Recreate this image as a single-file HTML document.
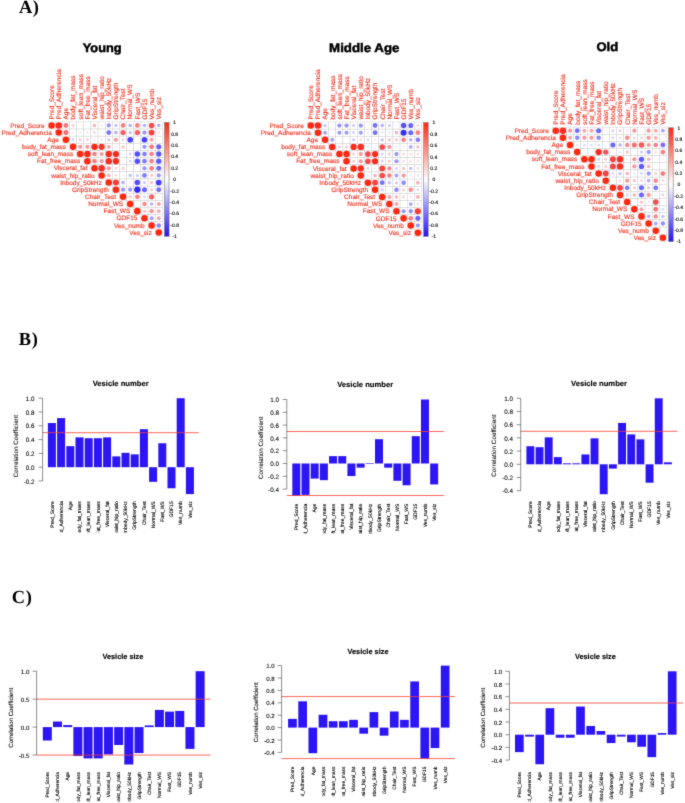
<!DOCTYPE html>
<html><head><meta charset="utf-8"><title>Figure</title>
<style>
html,body{margin:0;padding:0;background:#fff;}
body{width:685px;height:803px;overflow:hidden;position:relative;font-family:"Liberation Sans",sans-serif;}
svg{position:absolute;left:0;top:0;display:block;}
svg text{font-family:"Liberation Sans",sans-serif;text-rendering:geometricPrecision;}
.pl{font-family:"Liberation Serif",serif;font-weight:bold;font-size:18.4px;fill:#000;letter-spacing:0.7px;}
.gt{font-family:"Liberation Sans",sans-serif;font-weight:bold;font-size:12.3px;fill:#000;stroke:#000;stroke-width:0.5px;}
</style></head>
<body>
<svg width="685" height="803" viewBox="0 0 685 803">
<defs>
<linearGradient id="cbar" x1="0" y1="0" x2="0" y2="1">
<stop offset="0" stop-color="rgb(255,40,18)"/>
<stop offset="0.5" stop-color="#ffffff"/>
<stop offset="1" stop-color="rgb(36,18,250)"/>
</linearGradient>
<filter id="soft" x="0" y="0" width="685" height="803" filterUnits="userSpaceOnUse" color-interpolation-filters="sRGB">
<feConvolveMatrix order="3" kernelMatrix="1 7 1 7 49 7 1 7 1" divisor="81" edgeMode="duplicate" preserveAlpha="true"/>
</filter>
</defs>
<g filter="url(#soft)">
<rect x="0" y="0" width="685" height="803" fill="#fff"/>
<text class="pl" style="font-family:'Liberation Serif',serif" x="18.9" y="13.4">A)</text>
<text class="pl" style="font-family:'Liberation Serif',serif" x="18.8" y="344.9">B)</text>
<text class="pl" style="font-family:'Liberation Serif',serif" x="11.8" y="602.8">C)</text>
<text class="gt" x="82.8" y="51.9" textLength="38.8" lengthAdjust="spacingAndGlyphs">Young</text>
<text class="gt" x="329.1" y="51.7" textLength="70.3" lengthAdjust="spacingAndGlyphs">Middle Age</text>
<text class="gt" x="596.4" y="51.3" textLength="21.7" lengthAdjust="spacingAndGlyphs">Old</text>
<rect x="48.08" y="121.88" width="7.14" height="7.14" fill="#fff" stroke="#cdcdcd" stroke-width="0.45"/>
<rect x="55.22" y="121.88" width="7.14" height="7.14" fill="#fff" stroke="#cdcdcd" stroke-width="0.45"/>
<rect x="62.36" y="121.88" width="7.14" height="7.14" fill="#fff" stroke="#cdcdcd" stroke-width="0.45"/>
<rect x="69.5" y="121.88" width="7.14" height="7.14" fill="#fff" stroke="#cdcdcd" stroke-width="0.45"/>
<rect x="76.64" y="121.88" width="7.14" height="7.14" fill="#fff" stroke="#cdcdcd" stroke-width="0.45"/>
<rect x="83.78" y="121.88" width="7.14" height="7.14" fill="#fff" stroke="#cdcdcd" stroke-width="0.45"/>
<rect x="90.92" y="121.88" width="7.14" height="7.14" fill="#fff" stroke="#cdcdcd" stroke-width="0.45"/>
<rect x="98.06" y="121.88" width="7.14" height="7.14" fill="#fff" stroke="#cdcdcd" stroke-width="0.45"/>
<rect x="105.2" y="121.88" width="7.14" height="7.14" fill="#fff" stroke="#cdcdcd" stroke-width="0.45"/>
<rect x="112.34" y="121.88" width="7.14" height="7.14" fill="#fff" stroke="#cdcdcd" stroke-width="0.45"/>
<rect x="119.48" y="121.88" width="7.14" height="7.14" fill="#fff" stroke="#cdcdcd" stroke-width="0.45"/>
<rect x="126.62" y="121.88" width="7.14" height="7.14" fill="#fff" stroke="#cdcdcd" stroke-width="0.45"/>
<rect x="133.76" y="121.88" width="7.14" height="7.14" fill="#fff" stroke="#cdcdcd" stroke-width="0.45"/>
<rect x="140.9" y="121.88" width="7.14" height="7.14" fill="#fff" stroke="#cdcdcd" stroke-width="0.45"/>
<rect x="148.04" y="121.88" width="7.14" height="7.14" fill="#fff" stroke="#cdcdcd" stroke-width="0.45"/>
<rect x="155.18" y="121.88" width="7.14" height="7.14" fill="#fff" stroke="#cdcdcd" stroke-width="0.45"/>
<rect x="55.22" y="129.02" width="7.14" height="7.14" fill="#fff" stroke="#cdcdcd" stroke-width="0.45"/>
<rect x="62.36" y="129.02" width="7.14" height="7.14" fill="#fff" stroke="#cdcdcd" stroke-width="0.45"/>
<rect x="69.5" y="129.02" width="7.14" height="7.14" fill="#fff" stroke="#cdcdcd" stroke-width="0.45"/>
<rect x="76.64" y="129.02" width="7.14" height="7.14" fill="#fff" stroke="#cdcdcd" stroke-width="0.45"/>
<rect x="83.78" y="129.02" width="7.14" height="7.14" fill="#fff" stroke="#cdcdcd" stroke-width="0.45"/>
<rect x="90.92" y="129.02" width="7.14" height="7.14" fill="#fff" stroke="#cdcdcd" stroke-width="0.45"/>
<rect x="98.06" y="129.02" width="7.14" height="7.14" fill="#fff" stroke="#cdcdcd" stroke-width="0.45"/>
<rect x="105.2" y="129.02" width="7.14" height="7.14" fill="#fff" stroke="#cdcdcd" stroke-width="0.45"/>
<rect x="112.34" y="129.02" width="7.14" height="7.14" fill="#fff" stroke="#cdcdcd" stroke-width="0.45"/>
<rect x="119.48" y="129.02" width="7.14" height="7.14" fill="#fff" stroke="#cdcdcd" stroke-width="0.45"/>
<rect x="126.62" y="129.02" width="7.14" height="7.14" fill="#fff" stroke="#cdcdcd" stroke-width="0.45"/>
<rect x="133.76" y="129.02" width="7.14" height="7.14" fill="#fff" stroke="#cdcdcd" stroke-width="0.45"/>
<rect x="140.9" y="129.02" width="7.14" height="7.14" fill="#fff" stroke="#cdcdcd" stroke-width="0.45"/>
<rect x="148.04" y="129.02" width="7.14" height="7.14" fill="#fff" stroke="#cdcdcd" stroke-width="0.45"/>
<rect x="155.18" y="129.02" width="7.14" height="7.14" fill="#fff" stroke="#cdcdcd" stroke-width="0.45"/>
<rect x="62.36" y="136.16" width="7.14" height="7.14" fill="#fff" stroke="#cdcdcd" stroke-width="0.45"/>
<rect x="69.5" y="136.16" width="7.14" height="7.14" fill="#fff" stroke="#cdcdcd" stroke-width="0.45"/>
<rect x="76.64" y="136.16" width="7.14" height="7.14" fill="#fff" stroke="#cdcdcd" stroke-width="0.45"/>
<rect x="83.78" y="136.16" width="7.14" height="7.14" fill="#fff" stroke="#cdcdcd" stroke-width="0.45"/>
<rect x="90.92" y="136.16" width="7.14" height="7.14" fill="#fff" stroke="#cdcdcd" stroke-width="0.45"/>
<rect x="98.06" y="136.16" width="7.14" height="7.14" fill="#fff" stroke="#cdcdcd" stroke-width="0.45"/>
<rect x="105.2" y="136.16" width="7.14" height="7.14" fill="#fff" stroke="#cdcdcd" stroke-width="0.45"/>
<rect x="112.34" y="136.16" width="7.14" height="7.14" fill="#fff" stroke="#cdcdcd" stroke-width="0.45"/>
<rect x="119.48" y="136.16" width="7.14" height="7.14" fill="#fff" stroke="#cdcdcd" stroke-width="0.45"/>
<rect x="126.62" y="136.16" width="7.14" height="7.14" fill="#fff" stroke="#cdcdcd" stroke-width="0.45"/>
<rect x="133.76" y="136.16" width="7.14" height="7.14" fill="#fff" stroke="#cdcdcd" stroke-width="0.45"/>
<rect x="140.9" y="136.16" width="7.14" height="7.14" fill="#fff" stroke="#cdcdcd" stroke-width="0.45"/>
<rect x="148.04" y="136.16" width="7.14" height="7.14" fill="#fff" stroke="#cdcdcd" stroke-width="0.45"/>
<rect x="155.18" y="136.16" width="7.14" height="7.14" fill="#fff" stroke="#cdcdcd" stroke-width="0.45"/>
<rect x="69.5" y="143.3" width="7.14" height="7.14" fill="#fff" stroke="#cdcdcd" stroke-width="0.45"/>
<rect x="76.64" y="143.3" width="7.14" height="7.14" fill="#fff" stroke="#cdcdcd" stroke-width="0.45"/>
<rect x="83.78" y="143.3" width="7.14" height="7.14" fill="#fff" stroke="#cdcdcd" stroke-width="0.45"/>
<rect x="90.92" y="143.3" width="7.14" height="7.14" fill="#fff" stroke="#cdcdcd" stroke-width="0.45"/>
<rect x="98.06" y="143.3" width="7.14" height="7.14" fill="#fff" stroke="#cdcdcd" stroke-width="0.45"/>
<rect x="105.2" y="143.3" width="7.14" height="7.14" fill="#fff" stroke="#cdcdcd" stroke-width="0.45"/>
<rect x="112.34" y="143.3" width="7.14" height="7.14" fill="#fff" stroke="#cdcdcd" stroke-width="0.45"/>
<rect x="119.48" y="143.3" width="7.14" height="7.14" fill="#fff" stroke="#cdcdcd" stroke-width="0.45"/>
<rect x="126.62" y="143.3" width="7.14" height="7.14" fill="#fff" stroke="#cdcdcd" stroke-width="0.45"/>
<rect x="133.76" y="143.3" width="7.14" height="7.14" fill="#fff" stroke="#cdcdcd" stroke-width="0.45"/>
<rect x="140.9" y="143.3" width="7.14" height="7.14" fill="#fff" stroke="#cdcdcd" stroke-width="0.45"/>
<rect x="148.04" y="143.3" width="7.14" height="7.14" fill="#fff" stroke="#cdcdcd" stroke-width="0.45"/>
<rect x="155.18" y="143.3" width="7.14" height="7.14" fill="#fff" stroke="#cdcdcd" stroke-width="0.45"/>
<rect x="76.64" y="150.44" width="7.14" height="7.14" fill="#fff" stroke="#cdcdcd" stroke-width="0.45"/>
<rect x="83.78" y="150.44" width="7.14" height="7.14" fill="#fff" stroke="#cdcdcd" stroke-width="0.45"/>
<rect x="90.92" y="150.44" width="7.14" height="7.14" fill="#fff" stroke="#cdcdcd" stroke-width="0.45"/>
<rect x="98.06" y="150.44" width="7.14" height="7.14" fill="#fff" stroke="#cdcdcd" stroke-width="0.45"/>
<rect x="105.2" y="150.44" width="7.14" height="7.14" fill="#fff" stroke="#cdcdcd" stroke-width="0.45"/>
<rect x="112.34" y="150.44" width="7.14" height="7.14" fill="#fff" stroke="#cdcdcd" stroke-width="0.45"/>
<rect x="119.48" y="150.44" width="7.14" height="7.14" fill="#fff" stroke="#cdcdcd" stroke-width="0.45"/>
<rect x="126.62" y="150.44" width="7.14" height="7.14" fill="#fff" stroke="#cdcdcd" stroke-width="0.45"/>
<rect x="133.76" y="150.44" width="7.14" height="7.14" fill="#fff" stroke="#cdcdcd" stroke-width="0.45"/>
<rect x="140.9" y="150.44" width="7.14" height="7.14" fill="#fff" stroke="#cdcdcd" stroke-width="0.45"/>
<rect x="148.04" y="150.44" width="7.14" height="7.14" fill="#fff" stroke="#cdcdcd" stroke-width="0.45"/>
<rect x="155.18" y="150.44" width="7.14" height="7.14" fill="#fff" stroke="#cdcdcd" stroke-width="0.45"/>
<rect x="83.78" y="157.58" width="7.14" height="7.14" fill="#fff" stroke="#cdcdcd" stroke-width="0.45"/>
<rect x="90.92" y="157.58" width="7.14" height="7.14" fill="#fff" stroke="#cdcdcd" stroke-width="0.45"/>
<rect x="98.06" y="157.58" width="7.14" height="7.14" fill="#fff" stroke="#cdcdcd" stroke-width="0.45"/>
<rect x="105.2" y="157.58" width="7.14" height="7.14" fill="#fff" stroke="#cdcdcd" stroke-width="0.45"/>
<rect x="112.34" y="157.58" width="7.14" height="7.14" fill="#fff" stroke="#cdcdcd" stroke-width="0.45"/>
<rect x="119.48" y="157.58" width="7.14" height="7.14" fill="#fff" stroke="#cdcdcd" stroke-width="0.45"/>
<rect x="126.62" y="157.58" width="7.14" height="7.14" fill="#fff" stroke="#cdcdcd" stroke-width="0.45"/>
<rect x="133.76" y="157.58" width="7.14" height="7.14" fill="#fff" stroke="#cdcdcd" stroke-width="0.45"/>
<rect x="140.9" y="157.58" width="7.14" height="7.14" fill="#fff" stroke="#cdcdcd" stroke-width="0.45"/>
<rect x="148.04" y="157.58" width="7.14" height="7.14" fill="#fff" stroke="#cdcdcd" stroke-width="0.45"/>
<rect x="155.18" y="157.58" width="7.14" height="7.14" fill="#fff" stroke="#cdcdcd" stroke-width="0.45"/>
<rect x="90.92" y="164.72" width="7.14" height="7.14" fill="#fff" stroke="#cdcdcd" stroke-width="0.45"/>
<rect x="98.06" y="164.72" width="7.14" height="7.14" fill="#fff" stroke="#cdcdcd" stroke-width="0.45"/>
<rect x="105.2" y="164.72" width="7.14" height="7.14" fill="#fff" stroke="#cdcdcd" stroke-width="0.45"/>
<rect x="112.34" y="164.72" width="7.14" height="7.14" fill="#fff" stroke="#cdcdcd" stroke-width="0.45"/>
<rect x="119.48" y="164.72" width="7.14" height="7.14" fill="#fff" stroke="#cdcdcd" stroke-width="0.45"/>
<rect x="126.62" y="164.72" width="7.14" height="7.14" fill="#fff" stroke="#cdcdcd" stroke-width="0.45"/>
<rect x="133.76" y="164.72" width="7.14" height="7.14" fill="#fff" stroke="#cdcdcd" stroke-width="0.45"/>
<rect x="140.9" y="164.72" width="7.14" height="7.14" fill="#fff" stroke="#cdcdcd" stroke-width="0.45"/>
<rect x="148.04" y="164.72" width="7.14" height="7.14" fill="#fff" stroke="#cdcdcd" stroke-width="0.45"/>
<rect x="155.18" y="164.72" width="7.14" height="7.14" fill="#fff" stroke="#cdcdcd" stroke-width="0.45"/>
<rect x="98.06" y="171.86" width="7.14" height="7.14" fill="#fff" stroke="#cdcdcd" stroke-width="0.45"/>
<rect x="105.2" y="171.86" width="7.14" height="7.14" fill="#fff" stroke="#cdcdcd" stroke-width="0.45"/>
<rect x="112.34" y="171.86" width="7.14" height="7.14" fill="#fff" stroke="#cdcdcd" stroke-width="0.45"/>
<rect x="119.48" y="171.86" width="7.14" height="7.14" fill="#fff" stroke="#cdcdcd" stroke-width="0.45"/>
<rect x="126.62" y="171.86" width="7.14" height="7.14" fill="#fff" stroke="#cdcdcd" stroke-width="0.45"/>
<rect x="133.76" y="171.86" width="7.14" height="7.14" fill="#fff" stroke="#cdcdcd" stroke-width="0.45"/>
<rect x="140.9" y="171.86" width="7.14" height="7.14" fill="#fff" stroke="#cdcdcd" stroke-width="0.45"/>
<rect x="148.04" y="171.86" width="7.14" height="7.14" fill="#fff" stroke="#cdcdcd" stroke-width="0.45"/>
<rect x="155.18" y="171.86" width="7.14" height="7.14" fill="#fff" stroke="#cdcdcd" stroke-width="0.45"/>
<rect x="105.2" y="179" width="7.14" height="7.14" fill="#fff" stroke="#cdcdcd" stroke-width="0.45"/>
<rect x="112.34" y="179" width="7.14" height="7.14" fill="#fff" stroke="#cdcdcd" stroke-width="0.45"/>
<rect x="119.48" y="179" width="7.14" height="7.14" fill="#fff" stroke="#cdcdcd" stroke-width="0.45"/>
<rect x="126.62" y="179" width="7.14" height="7.14" fill="#fff" stroke="#cdcdcd" stroke-width="0.45"/>
<rect x="133.76" y="179" width="7.14" height="7.14" fill="#fff" stroke="#cdcdcd" stroke-width="0.45"/>
<rect x="140.9" y="179" width="7.14" height="7.14" fill="#fff" stroke="#cdcdcd" stroke-width="0.45"/>
<rect x="148.04" y="179" width="7.14" height="7.14" fill="#fff" stroke="#cdcdcd" stroke-width="0.45"/>
<rect x="155.18" y="179" width="7.14" height="7.14" fill="#fff" stroke="#cdcdcd" stroke-width="0.45"/>
<rect x="112.34" y="186.14" width="7.14" height="7.14" fill="#fff" stroke="#cdcdcd" stroke-width="0.45"/>
<rect x="119.48" y="186.14" width="7.14" height="7.14" fill="#fff" stroke="#cdcdcd" stroke-width="0.45"/>
<rect x="126.62" y="186.14" width="7.14" height="7.14" fill="#fff" stroke="#cdcdcd" stroke-width="0.45"/>
<rect x="133.76" y="186.14" width="7.14" height="7.14" fill="#fff" stroke="#cdcdcd" stroke-width="0.45"/>
<rect x="140.9" y="186.14" width="7.14" height="7.14" fill="#fff" stroke="#cdcdcd" stroke-width="0.45"/>
<rect x="148.04" y="186.14" width="7.14" height="7.14" fill="#fff" stroke="#cdcdcd" stroke-width="0.45"/>
<rect x="155.18" y="186.14" width="7.14" height="7.14" fill="#fff" stroke="#cdcdcd" stroke-width="0.45"/>
<rect x="119.48" y="193.28" width="7.14" height="7.14" fill="#fff" stroke="#cdcdcd" stroke-width="0.45"/>
<rect x="126.62" y="193.28" width="7.14" height="7.14" fill="#fff" stroke="#cdcdcd" stroke-width="0.45"/>
<rect x="133.76" y="193.28" width="7.14" height="7.14" fill="#fff" stroke="#cdcdcd" stroke-width="0.45"/>
<rect x="140.9" y="193.28" width="7.14" height="7.14" fill="#fff" stroke="#cdcdcd" stroke-width="0.45"/>
<rect x="148.04" y="193.28" width="7.14" height="7.14" fill="#fff" stroke="#cdcdcd" stroke-width="0.45"/>
<rect x="155.18" y="193.28" width="7.14" height="7.14" fill="#fff" stroke="#cdcdcd" stroke-width="0.45"/>
<rect x="126.62" y="200.42" width="7.14" height="7.14" fill="#fff" stroke="#cdcdcd" stroke-width="0.45"/>
<rect x="133.76" y="200.42" width="7.14" height="7.14" fill="#fff" stroke="#cdcdcd" stroke-width="0.45"/>
<rect x="140.9" y="200.42" width="7.14" height="7.14" fill="#fff" stroke="#cdcdcd" stroke-width="0.45"/>
<rect x="148.04" y="200.42" width="7.14" height="7.14" fill="#fff" stroke="#cdcdcd" stroke-width="0.45"/>
<rect x="155.18" y="200.42" width="7.14" height="7.14" fill="#fff" stroke="#cdcdcd" stroke-width="0.45"/>
<rect x="133.76" y="207.56" width="7.14" height="7.14" fill="#fff" stroke="#cdcdcd" stroke-width="0.45"/>
<rect x="140.9" y="207.56" width="7.14" height="7.14" fill="#fff" stroke="#cdcdcd" stroke-width="0.45"/>
<rect x="148.04" y="207.56" width="7.14" height="7.14" fill="#fff" stroke="#cdcdcd" stroke-width="0.45"/>
<rect x="155.18" y="207.56" width="7.14" height="7.14" fill="#fff" stroke="#cdcdcd" stroke-width="0.45"/>
<rect x="140.9" y="214.7" width="7.14" height="7.14" fill="#fff" stroke="#cdcdcd" stroke-width="0.45"/>
<rect x="148.04" y="214.7" width="7.14" height="7.14" fill="#fff" stroke="#cdcdcd" stroke-width="0.45"/>
<rect x="155.18" y="214.7" width="7.14" height="7.14" fill="#fff" stroke="#cdcdcd" stroke-width="0.45"/>
<rect x="148.04" y="221.84" width="7.14" height="7.14" fill="#fff" stroke="#cdcdcd" stroke-width="0.45"/>
<rect x="155.18" y="221.84" width="7.14" height="7.14" fill="#fff" stroke="#cdcdcd" stroke-width="0.45"/>
<rect x="155.18" y="228.98" width="7.14" height="7.14" fill="#fff" stroke="#cdcdcd" stroke-width="0.45"/>
<circle cx="51.65" cy="125.45" r="3.26" fill="#ff2812"/>
<circle cx="58.79" cy="125.45" r="3.26" fill="#fb2b20"/>
<circle cx="65.93" cy="125.45" r="2.43" fill="#f5767c"/>
<circle cx="73.07" cy="125.45" r="1.44" fill="#fbd2d5"/>
<circle cx="80.21" cy="125.45" r="0.88" fill="#fef2f3"/>
<circle cx="87.35" cy="125.45" r="0.88" fill="#fef2f3"/>
<circle cx="94.49" cy="125.45" r="1.82" fill="#f8b3b8"/>
<circle cx="101.63" cy="125.45" r="1.15" fill="#fde5e7"/>
<circle cx="108.77" cy="125.45" r="2.1" fill="#9894fd"/>
<circle cx="115.91" cy="125.45" r="1.65" fill="#c2c0fe"/>
<circle cx="123.05" cy="125.45" r="2.33" fill="#f58186"/>
<circle cx="130.19" cy="125.45" r="1.82" fill="#b3b0fe"/>
<circle cx="137.33" cy="125.45" r="2.33" fill="#f58186"/>
<circle cx="144.47" cy="125.45" r="1.82" fill="#b3b0fe"/>
<circle cx="151.61" cy="125.45" r="2.8" fill="#f65052"/>
<circle cx="158.75" cy="125.45" r="1.82" fill="#b3b0fe"/>
<circle cx="58.79" cy="132.59" r="3.26" fill="#ff2812"/>
<circle cx="65.93" cy="132.59" r="2.52" fill="#f56d71"/>
<circle cx="73.07" cy="132.59" r="1.15" fill="#fde5e7"/>
<circle cx="80.21" cy="132.59" r="1.15" fill="#e5e4ff"/>
<circle cx="87.35" cy="132.59" r="1.15" fill="#e5e4ff"/>
<circle cx="94.49" cy="132.59" r="1.44" fill="#fbd2d5"/>
<circle cx="108.77" cy="132.59" r="2.43" fill="#7671fd"/>
<circle cx="115.91" cy="132.59" r="1.82" fill="#b3b0fe"/>
<circle cx="123.05" cy="132.59" r="2.63" fill="#f56165"/>
<circle cx="130.19" cy="132.59" r="1.65" fill="#c2c0fe"/>
<circle cx="137.33" cy="132.59" r="2.63" fill="#f56165"/>
<circle cx="144.47" cy="132.59" r="2.1" fill="#9894fd"/>
<circle cx="151.61" cy="132.59" r="2.96" fill="#f74140"/>
<circle cx="158.75" cy="132.59" r="1.27" fill="#fcdee1"/>
<circle cx="65.93" cy="139.73" r="3.26" fill="#ff2812"/>
<circle cx="73.07" cy="139.73" r="1.44" fill="#d2d1fe"/>
<circle cx="80.21" cy="139.73" r="1.53" fill="#facccf"/>
<circle cx="87.35" cy="139.73" r="1.44" fill="#fbd2d5"/>
<circle cx="94.49" cy="139.73" r="1.15" fill="#fde5e7"/>
<circle cx="101.63" cy="139.73" r="1.15" fill="#fde5e7"/>
<circle cx="108.77" cy="139.73" r="1.53" fill="#cccafe"/>
<circle cx="115.91" cy="139.73" r="2.1" fill="#f6989e"/>
<circle cx="123.05" cy="139.73" r="1.44" fill="#fbd2d5"/>
<circle cx="130.19" cy="139.73" r="2.84" fill="#4b43fc"/>
<circle cx="144.47" cy="139.73" r="2.84" fill="#4b43fc"/>
<circle cx="151.61" cy="139.73" r="2.01" fill="#f7a1a7"/>
<circle cx="158.75" cy="139.73" r="0.81" fill="#fef5f6"/>
<circle cx="73.07" cy="146.87" r="3.26" fill="#ff2812"/>
<circle cx="80.21" cy="146.87" r="2.1" fill="#f6989e"/>
<circle cx="87.35" cy="146.87" r="2.1" fill="#f6989e"/>
<circle cx="94.49" cy="146.87" r="3.18" fill="#fd2716"/>
<circle cx="101.63" cy="146.87" r="3.12" fill="#f9342e"/>
<circle cx="108.77" cy="146.87" r="1.97" fill="#f7a5aa"/>
<circle cx="115.91" cy="146.87" r="1.15" fill="#fde5e7"/>
<circle cx="123.05" cy="146.87" r="1.65" fill="#f9c2c6"/>
<circle cx="130.19" cy="146.87" r="0.88" fill="#fef2f3"/>
<circle cx="144.47" cy="146.87" r="2.1" fill="#9894fd"/>
<circle cx="151.61" cy="146.87" r="2.41" fill="#f5797e"/>
<circle cx="158.75" cy="146.87" r="2.57" fill="#6761fc"/>
<circle cx="80.21" cy="154.01" r="3.26" fill="#ff2812"/>
<circle cx="87.35" cy="154.01" r="3.26" fill="#ff2812"/>
<circle cx="94.49" cy="154.01" r="2.33" fill="#f58186"/>
<circle cx="101.63" cy="154.01" r="2.1" fill="#f6989e"/>
<circle cx="108.77" cy="154.01" r="3.21" fill="#fa2e25"/>
<circle cx="115.91" cy="154.01" r="3.1" fill="#fc2a1d"/>
<circle cx="130.19" cy="154.01" r="1.44" fill="#d2d1fe"/>
<circle cx="137.33" cy="154.01" r="2.74" fill="#554efc"/>
<circle cx="144.47" cy="154.01" r="2.33" fill="#817cfd"/>
<circle cx="151.61" cy="154.01" r="2.33" fill="#f58186"/>
<circle cx="158.75" cy="154.01" r="2.65" fill="#5e57fc"/>
<circle cx="87.35" cy="161.15" r="3.26" fill="#ff2812"/>
<circle cx="94.49" cy="161.15" r="2.33" fill="#f58186"/>
<circle cx="101.63" cy="161.15" r="2.1" fill="#f6989e"/>
<circle cx="108.77" cy="161.15" r="3.21" fill="#fa2e25"/>
<circle cx="115.91" cy="161.15" r="3.1" fill="#fc2a1d"/>
<circle cx="130.19" cy="161.15" r="1.44" fill="#d2d1fe"/>
<circle cx="137.33" cy="161.15" r="2.74" fill="#554efc"/>
<circle cx="144.47" cy="161.15" r="2.33" fill="#817cfd"/>
<circle cx="151.61" cy="161.15" r="2.33" fill="#f58186"/>
<circle cx="158.75" cy="161.15" r="2.65" fill="#5e57fc"/>
<circle cx="94.49" cy="168.29" r="3.26" fill="#ff2812"/>
<circle cx="101.63" cy="168.29" r="3.21" fill="#fa2e25"/>
<circle cx="108.77" cy="168.29" r="2.1" fill="#f6989e"/>
<circle cx="115.91" cy="168.29" r="1.44" fill="#fbd2d5"/>
<circle cx="123.05" cy="168.29" r="1.53" fill="#facccf"/>
<circle cx="144.47" cy="168.29" r="2.1" fill="#9894fd"/>
<circle cx="151.61" cy="168.29" r="2.38" fill="#f57b81"/>
<circle cx="158.75" cy="168.29" r="2.5" fill="#6e69fd"/>
<circle cx="101.63" cy="175.43" r="3.26" fill="#ff2812"/>
<circle cx="108.77" cy="175.43" r="1.82" fill="#f8b3b8"/>
<circle cx="115.91" cy="175.43" r="1.34" fill="#fbd9dc"/>
<circle cx="123.05" cy="175.43" r="0.88" fill="#fef2f3"/>
<circle cx="130.19" cy="175.43" r="1.65" fill="#c2c0fe"/>
<circle cx="137.33" cy="175.43" r="1.53" fill="#cccafe"/>
<circle cx="144.47" cy="175.43" r="2.33" fill="#817cfd"/>
<circle cx="151.61" cy="175.43" r="1.57" fill="#fac8cc"/>
<circle cx="158.75" cy="175.43" r="2.07" fill="#9c98fd"/>
<circle cx="108.77" cy="182.57" r="3.26" fill="#ff2812"/>
<circle cx="115.91" cy="182.57" r="3.03" fill="#f83b38"/>
<circle cx="123.05" cy="182.57" r="1.82" fill="#b3b0fe"/>
<circle cx="130.19" cy="182.57" r="1.15" fill="#fde5e7"/>
<circle cx="137.33" cy="182.57" r="2.74" fill="#554efc"/>
<circle cx="144.47" cy="182.57" r="1.53" fill="#cccafe"/>
<circle cx="151.61" cy="182.57" r="1.69" fill="#f9bfc3"/>
<circle cx="158.75" cy="182.57" r="2.88" fill="#473ffc"/>
<circle cx="115.91" cy="189.71" r="3.26" fill="#ff2812"/>
<circle cx="123.05" cy="189.71" r="2.1" fill="#9894fd"/>
<circle cx="130.19" cy="189.71" r="2.1" fill="#9894fd"/>
<circle cx="137.33" cy="189.71" r="3.12" fill="#3226fb"/>
<circle cx="144.47" cy="189.71" r="2.52" fill="#6c66fc"/>
<circle cx="151.61" cy="189.71" r="1.57" fill="#fac8cc"/>
<circle cx="158.75" cy="189.71" r="2.43" fill="#7671fd"/>
<circle cx="123.05" cy="196.85" r="3.26" fill="#ff2812"/>
<circle cx="130.19" cy="196.85" r="1.65" fill="#f9c2c6"/>
<circle cx="137.33" cy="196.85" r="2.33" fill="#f58186"/>
<circle cx="144.47" cy="196.85" r="1.44" fill="#d2d1fe"/>
<circle cx="151.61" cy="196.85" r="2.63" fill="#f56165"/>
<circle cx="158.75" cy="196.85" r="0.7" fill="#fef8f9"/>
<circle cx="130.19" cy="203.99" r="3.26" fill="#ff2812"/>
<circle cx="144.47" cy="203.99" r="2.22" fill="#f68c92"/>
<circle cx="151.61" cy="203.99" r="1.79" fill="#b6b3fe"/>
<circle cx="158.75" cy="203.99" r="2.01" fill="#f7a1a7"/>
<circle cx="137.33" cy="211.13" r="3.26" fill="#ff2812"/>
<circle cx="144.47" cy="211.13" r="1.65" fill="#f9c2c6"/>
<circle cx="151.61" cy="211.13" r="2.15" fill="#f69399"/>
<circle cx="158.75" cy="211.13" r="1.92" fill="#f7aaaf"/>
<circle cx="144.47" cy="218.27" r="3.26" fill="#ff2812"/>
<circle cx="151.61" cy="218.27" r="2.01" fill="#a19efe"/>
<circle cx="158.75" cy="218.27" r="1.98" fill="#f7a4aa"/>
<circle cx="151.61" cy="225.41" r="3.26" fill="#ff2812"/>
<circle cx="158.75" cy="225.41" r="2.26" fill="#8884fd"/>
<circle cx="158.75" cy="232.55" r="3.26" fill="#ff2812"/>
<g font-size="6.5" fill="#f23322" stroke="#f23322" stroke-width="0.14">
<text x="44.65" y="127.65" text-anchor="end">Pred_Score</text>
<text transform="translate(53.95,119.48) rotate(-90)">Pred_Score</text>
<text x="51.79" y="134.79" text-anchor="end">Pred_Adherencia</text>
<text transform="translate(61.09,119.48) rotate(-90)">Pred_Adherencia</text>
<text x="58.93" y="141.93" text-anchor="end">Age</text>
<text transform="translate(68.23,119.48) rotate(-90)">Age</text>
<text x="66.07" y="149.07" text-anchor="end">body_fat_mass</text>
<text transform="translate(75.37,119.48) rotate(-90)">body_fat_mass</text>
<text x="73.21" y="156.21" text-anchor="end">soft_lean_mass</text>
<text transform="translate(82.51,119.48) rotate(-90)">soft_lean_mass</text>
<text x="80.35" y="163.35" text-anchor="end">Fat_free_mass</text>
<text transform="translate(89.65,119.48) rotate(-90)">Fat_free_mass</text>
<text x="87.49" y="170.49" text-anchor="end">Visceral_fat</text>
<text transform="translate(96.79,119.48) rotate(-90)">Visceral_fat</text>
<text x="94.63" y="177.63" text-anchor="end">waist_hip_ratio</text>
<text transform="translate(103.93,119.48) rotate(-90)">waist_hip_ratio</text>
<text x="101.77" y="184.77" text-anchor="end">Inbody_50kHz</text>
<text transform="translate(111.07,119.48) rotate(-90)">Inbody_50kHz</text>
<text x="108.91" y="191.91" text-anchor="end">GripStrength</text>
<text transform="translate(118.21,119.48) rotate(-90)">GripStrength</text>
<text x="116.05" y="199.05" text-anchor="end">Chair_Test</text>
<text transform="translate(125.35,119.48) rotate(-90)">Chair_Test</text>
<text x="123.19" y="206.19" text-anchor="end">Normal_WS</text>
<text transform="translate(132.49,119.48) rotate(-90)">Normal_WS</text>
<text x="130.33" y="213.33" text-anchor="end">Fast_WS</text>
<text transform="translate(139.63,119.48) rotate(-90)">Fast_WS</text>
<text x="137.47" y="220.47" text-anchor="end">GDF15</text>
<text transform="translate(146.77,119.48) rotate(-90)">GDF15</text>
<text x="144.61" y="227.61" text-anchor="end">Ves_numb</text>
<text transform="translate(153.91,119.48) rotate(-90)">Ves_numb</text>
<text x="151.75" y="234.75" text-anchor="end">Ves_siz</text>
<text transform="translate(161.05,119.48) rotate(-90)">Ves_siz</text>
</g>
<rect x="164.52" y="122.58" width="4.5" height="113.64" fill="url(#cbar)" stroke="#666" stroke-width="0.5"/>
<g font-size="5" fill="#000" stroke="#000" stroke-width="0.12">
<line x1="169.02" x2="170.22" y1="122.58" y2="122.58" stroke="#888" stroke-width="0.5"/>
<text x="174.62" y="124.38" text-anchor="middle">1</text>
<line x1="169.02" x2="170.22" y1="133.94" y2="133.94" stroke="#888" stroke-width="0.5"/>
<text x="174.62" y="135.74" text-anchor="middle">0.8</text>
<line x1="169.02" x2="170.22" y1="145.31" y2="145.31" stroke="#888" stroke-width="0.5"/>
<text x="174.62" y="147.11" text-anchor="middle">0.6</text>
<line x1="169.02" x2="170.22" y1="156.67" y2="156.67" stroke="#888" stroke-width="0.5"/>
<text x="174.62" y="158.47" text-anchor="middle">0.4</text>
<line x1="169.02" x2="170.22" y1="168.04" y2="168.04" stroke="#888" stroke-width="0.5"/>
<text x="174.62" y="169.84" text-anchor="middle">0.2</text>
<line x1="169.02" x2="170.22" y1="179.4" y2="179.4" stroke="#888" stroke-width="0.5"/>
<text x="174.62" y="181.2" text-anchor="middle">0</text>
<line x1="169.02" x2="170.22" y1="190.76" y2="190.76" stroke="#888" stroke-width="0.5"/>
<text x="174.62" y="192.56" text-anchor="middle">-0.2</text>
<line x1="169.02" x2="170.22" y1="202.13" y2="202.13" stroke="#888" stroke-width="0.5"/>
<text x="174.62" y="203.93" text-anchor="middle">-0.4</text>
<line x1="169.02" x2="170.22" y1="213.49" y2="213.49" stroke="#888" stroke-width="0.5"/>
<text x="174.62" y="215.29" text-anchor="middle">-0.6</text>
<line x1="169.02" x2="170.22" y1="224.86" y2="224.86" stroke="#888" stroke-width="0.5"/>
<text x="174.62" y="226.66" text-anchor="middle">-0.8</text>
<line x1="169.02" x2="170.22" y1="236.22" y2="236.22" stroke="#888" stroke-width="0.5"/>
<text x="174.62" y="238.02" text-anchor="middle">-1</text>
</g>
<rect x="307.23" y="121.98" width="7.14" height="7.14" fill="#fff" stroke="#cdcdcd" stroke-width="0.45"/>
<rect x="314.37" y="121.98" width="7.14" height="7.14" fill="#fff" stroke="#cdcdcd" stroke-width="0.45"/>
<rect x="321.51" y="121.98" width="7.14" height="7.14" fill="#fff" stroke="#cdcdcd" stroke-width="0.45"/>
<rect x="328.65" y="121.98" width="7.14" height="7.14" fill="#fff" stroke="#cdcdcd" stroke-width="0.45"/>
<rect x="335.79" y="121.98" width="7.14" height="7.14" fill="#fff" stroke="#cdcdcd" stroke-width="0.45"/>
<rect x="342.93" y="121.98" width="7.14" height="7.14" fill="#fff" stroke="#cdcdcd" stroke-width="0.45"/>
<rect x="350.07" y="121.98" width="7.14" height="7.14" fill="#fff" stroke="#cdcdcd" stroke-width="0.45"/>
<rect x="357.21" y="121.98" width="7.14" height="7.14" fill="#fff" stroke="#cdcdcd" stroke-width="0.45"/>
<rect x="364.35" y="121.98" width="7.14" height="7.14" fill="#fff" stroke="#cdcdcd" stroke-width="0.45"/>
<rect x="371.49" y="121.98" width="7.14" height="7.14" fill="#fff" stroke="#cdcdcd" stroke-width="0.45"/>
<rect x="378.63" y="121.98" width="7.14" height="7.14" fill="#fff" stroke="#cdcdcd" stroke-width="0.45"/>
<rect x="385.77" y="121.98" width="7.14" height="7.14" fill="#fff" stroke="#cdcdcd" stroke-width="0.45"/>
<rect x="392.91" y="121.98" width="7.14" height="7.14" fill="#fff" stroke="#cdcdcd" stroke-width="0.45"/>
<rect x="400.05" y="121.98" width="7.14" height="7.14" fill="#fff" stroke="#cdcdcd" stroke-width="0.45"/>
<rect x="407.19" y="121.98" width="7.14" height="7.14" fill="#fff" stroke="#cdcdcd" stroke-width="0.45"/>
<rect x="414.33" y="121.98" width="7.14" height="7.14" fill="#fff" stroke="#cdcdcd" stroke-width="0.45"/>
<rect x="314.37" y="129.12" width="7.14" height="7.14" fill="#fff" stroke="#cdcdcd" stroke-width="0.45"/>
<rect x="321.51" y="129.12" width="7.14" height="7.14" fill="#fff" stroke="#cdcdcd" stroke-width="0.45"/>
<rect x="328.65" y="129.12" width="7.14" height="7.14" fill="#fff" stroke="#cdcdcd" stroke-width="0.45"/>
<rect x="335.79" y="129.12" width="7.14" height="7.14" fill="#fff" stroke="#cdcdcd" stroke-width="0.45"/>
<rect x="342.93" y="129.12" width="7.14" height="7.14" fill="#fff" stroke="#cdcdcd" stroke-width="0.45"/>
<rect x="350.07" y="129.12" width="7.14" height="7.14" fill="#fff" stroke="#cdcdcd" stroke-width="0.45"/>
<rect x="357.21" y="129.12" width="7.14" height="7.14" fill="#fff" stroke="#cdcdcd" stroke-width="0.45"/>
<rect x="364.35" y="129.12" width="7.14" height="7.14" fill="#fff" stroke="#cdcdcd" stroke-width="0.45"/>
<rect x="371.49" y="129.12" width="7.14" height="7.14" fill="#fff" stroke="#cdcdcd" stroke-width="0.45"/>
<rect x="378.63" y="129.12" width="7.14" height="7.14" fill="#fff" stroke="#cdcdcd" stroke-width="0.45"/>
<rect x="385.77" y="129.12" width="7.14" height="7.14" fill="#fff" stroke="#cdcdcd" stroke-width="0.45"/>
<rect x="392.91" y="129.12" width="7.14" height="7.14" fill="#fff" stroke="#cdcdcd" stroke-width="0.45"/>
<rect x="400.05" y="129.12" width="7.14" height="7.14" fill="#fff" stroke="#cdcdcd" stroke-width="0.45"/>
<rect x="407.19" y="129.12" width="7.14" height="7.14" fill="#fff" stroke="#cdcdcd" stroke-width="0.45"/>
<rect x="414.33" y="129.12" width="7.14" height="7.14" fill="#fff" stroke="#cdcdcd" stroke-width="0.45"/>
<rect x="321.51" y="136.26" width="7.14" height="7.14" fill="#fff" stroke="#cdcdcd" stroke-width="0.45"/>
<rect x="328.65" y="136.26" width="7.14" height="7.14" fill="#fff" stroke="#cdcdcd" stroke-width="0.45"/>
<rect x="335.79" y="136.26" width="7.14" height="7.14" fill="#fff" stroke="#cdcdcd" stroke-width="0.45"/>
<rect x="342.93" y="136.26" width="7.14" height="7.14" fill="#fff" stroke="#cdcdcd" stroke-width="0.45"/>
<rect x="350.07" y="136.26" width="7.14" height="7.14" fill="#fff" stroke="#cdcdcd" stroke-width="0.45"/>
<rect x="357.21" y="136.26" width="7.14" height="7.14" fill="#fff" stroke="#cdcdcd" stroke-width="0.45"/>
<rect x="364.35" y="136.26" width="7.14" height="7.14" fill="#fff" stroke="#cdcdcd" stroke-width="0.45"/>
<rect x="371.49" y="136.26" width="7.14" height="7.14" fill="#fff" stroke="#cdcdcd" stroke-width="0.45"/>
<rect x="378.63" y="136.26" width="7.14" height="7.14" fill="#fff" stroke="#cdcdcd" stroke-width="0.45"/>
<rect x="385.77" y="136.26" width="7.14" height="7.14" fill="#fff" stroke="#cdcdcd" stroke-width="0.45"/>
<rect x="392.91" y="136.26" width="7.14" height="7.14" fill="#fff" stroke="#cdcdcd" stroke-width="0.45"/>
<rect x="400.05" y="136.26" width="7.14" height="7.14" fill="#fff" stroke="#cdcdcd" stroke-width="0.45"/>
<rect x="407.19" y="136.26" width="7.14" height="7.14" fill="#fff" stroke="#cdcdcd" stroke-width="0.45"/>
<rect x="414.33" y="136.26" width="7.14" height="7.14" fill="#fff" stroke="#cdcdcd" stroke-width="0.45"/>
<rect x="328.65" y="143.4" width="7.14" height="7.14" fill="#fff" stroke="#cdcdcd" stroke-width="0.45"/>
<rect x="335.79" y="143.4" width="7.14" height="7.14" fill="#fff" stroke="#cdcdcd" stroke-width="0.45"/>
<rect x="342.93" y="143.4" width="7.14" height="7.14" fill="#fff" stroke="#cdcdcd" stroke-width="0.45"/>
<rect x="350.07" y="143.4" width="7.14" height="7.14" fill="#fff" stroke="#cdcdcd" stroke-width="0.45"/>
<rect x="357.21" y="143.4" width="7.14" height="7.14" fill="#fff" stroke="#cdcdcd" stroke-width="0.45"/>
<rect x="364.35" y="143.4" width="7.14" height="7.14" fill="#fff" stroke="#cdcdcd" stroke-width="0.45"/>
<rect x="371.49" y="143.4" width="7.14" height="7.14" fill="#fff" stroke="#cdcdcd" stroke-width="0.45"/>
<rect x="378.63" y="143.4" width="7.14" height="7.14" fill="#fff" stroke="#cdcdcd" stroke-width="0.45"/>
<rect x="385.77" y="143.4" width="7.14" height="7.14" fill="#fff" stroke="#cdcdcd" stroke-width="0.45"/>
<rect x="392.91" y="143.4" width="7.14" height="7.14" fill="#fff" stroke="#cdcdcd" stroke-width="0.45"/>
<rect x="400.05" y="143.4" width="7.14" height="7.14" fill="#fff" stroke="#cdcdcd" stroke-width="0.45"/>
<rect x="407.19" y="143.4" width="7.14" height="7.14" fill="#fff" stroke="#cdcdcd" stroke-width="0.45"/>
<rect x="414.33" y="143.4" width="7.14" height="7.14" fill="#fff" stroke="#cdcdcd" stroke-width="0.45"/>
<rect x="335.79" y="150.54" width="7.14" height="7.14" fill="#fff" stroke="#cdcdcd" stroke-width="0.45"/>
<rect x="342.93" y="150.54" width="7.14" height="7.14" fill="#fff" stroke="#cdcdcd" stroke-width="0.45"/>
<rect x="350.07" y="150.54" width="7.14" height="7.14" fill="#fff" stroke="#cdcdcd" stroke-width="0.45"/>
<rect x="357.21" y="150.54" width="7.14" height="7.14" fill="#fff" stroke="#cdcdcd" stroke-width="0.45"/>
<rect x="364.35" y="150.54" width="7.14" height="7.14" fill="#fff" stroke="#cdcdcd" stroke-width="0.45"/>
<rect x="371.49" y="150.54" width="7.14" height="7.14" fill="#fff" stroke="#cdcdcd" stroke-width="0.45"/>
<rect x="378.63" y="150.54" width="7.14" height="7.14" fill="#fff" stroke="#cdcdcd" stroke-width="0.45"/>
<rect x="385.77" y="150.54" width="7.14" height="7.14" fill="#fff" stroke="#cdcdcd" stroke-width="0.45"/>
<rect x="392.91" y="150.54" width="7.14" height="7.14" fill="#fff" stroke="#cdcdcd" stroke-width="0.45"/>
<rect x="400.05" y="150.54" width="7.14" height="7.14" fill="#fff" stroke="#cdcdcd" stroke-width="0.45"/>
<rect x="407.19" y="150.54" width="7.14" height="7.14" fill="#fff" stroke="#cdcdcd" stroke-width="0.45"/>
<rect x="414.33" y="150.54" width="7.14" height="7.14" fill="#fff" stroke="#cdcdcd" stroke-width="0.45"/>
<rect x="342.93" y="157.68" width="7.14" height="7.14" fill="#fff" stroke="#cdcdcd" stroke-width="0.45"/>
<rect x="350.07" y="157.68" width="7.14" height="7.14" fill="#fff" stroke="#cdcdcd" stroke-width="0.45"/>
<rect x="357.21" y="157.68" width="7.14" height="7.14" fill="#fff" stroke="#cdcdcd" stroke-width="0.45"/>
<rect x="364.35" y="157.68" width="7.14" height="7.14" fill="#fff" stroke="#cdcdcd" stroke-width="0.45"/>
<rect x="371.49" y="157.68" width="7.14" height="7.14" fill="#fff" stroke="#cdcdcd" stroke-width="0.45"/>
<rect x="378.63" y="157.68" width="7.14" height="7.14" fill="#fff" stroke="#cdcdcd" stroke-width="0.45"/>
<rect x="385.77" y="157.68" width="7.14" height="7.14" fill="#fff" stroke="#cdcdcd" stroke-width="0.45"/>
<rect x="392.91" y="157.68" width="7.14" height="7.14" fill="#fff" stroke="#cdcdcd" stroke-width="0.45"/>
<rect x="400.05" y="157.68" width="7.14" height="7.14" fill="#fff" stroke="#cdcdcd" stroke-width="0.45"/>
<rect x="407.19" y="157.68" width="7.14" height="7.14" fill="#fff" stroke="#cdcdcd" stroke-width="0.45"/>
<rect x="414.33" y="157.68" width="7.14" height="7.14" fill="#fff" stroke="#cdcdcd" stroke-width="0.45"/>
<rect x="350.07" y="164.82" width="7.14" height="7.14" fill="#fff" stroke="#cdcdcd" stroke-width="0.45"/>
<rect x="357.21" y="164.82" width="7.14" height="7.14" fill="#fff" stroke="#cdcdcd" stroke-width="0.45"/>
<rect x="364.35" y="164.82" width="7.14" height="7.14" fill="#fff" stroke="#cdcdcd" stroke-width="0.45"/>
<rect x="371.49" y="164.82" width="7.14" height="7.14" fill="#fff" stroke="#cdcdcd" stroke-width="0.45"/>
<rect x="378.63" y="164.82" width="7.14" height="7.14" fill="#fff" stroke="#cdcdcd" stroke-width="0.45"/>
<rect x="385.77" y="164.82" width="7.14" height="7.14" fill="#fff" stroke="#cdcdcd" stroke-width="0.45"/>
<rect x="392.91" y="164.82" width="7.14" height="7.14" fill="#fff" stroke="#cdcdcd" stroke-width="0.45"/>
<rect x="400.05" y="164.82" width="7.14" height="7.14" fill="#fff" stroke="#cdcdcd" stroke-width="0.45"/>
<rect x="407.19" y="164.82" width="7.14" height="7.14" fill="#fff" stroke="#cdcdcd" stroke-width="0.45"/>
<rect x="414.33" y="164.82" width="7.14" height="7.14" fill="#fff" stroke="#cdcdcd" stroke-width="0.45"/>
<rect x="357.21" y="171.96" width="7.14" height="7.14" fill="#fff" stroke="#cdcdcd" stroke-width="0.45"/>
<rect x="364.35" y="171.96" width="7.14" height="7.14" fill="#fff" stroke="#cdcdcd" stroke-width="0.45"/>
<rect x="371.49" y="171.96" width="7.14" height="7.14" fill="#fff" stroke="#cdcdcd" stroke-width="0.45"/>
<rect x="378.63" y="171.96" width="7.14" height="7.14" fill="#fff" stroke="#cdcdcd" stroke-width="0.45"/>
<rect x="385.77" y="171.96" width="7.14" height="7.14" fill="#fff" stroke="#cdcdcd" stroke-width="0.45"/>
<rect x="392.91" y="171.96" width="7.14" height="7.14" fill="#fff" stroke="#cdcdcd" stroke-width="0.45"/>
<rect x="400.05" y="171.96" width="7.14" height="7.14" fill="#fff" stroke="#cdcdcd" stroke-width="0.45"/>
<rect x="407.19" y="171.96" width="7.14" height="7.14" fill="#fff" stroke="#cdcdcd" stroke-width="0.45"/>
<rect x="414.33" y="171.96" width="7.14" height="7.14" fill="#fff" stroke="#cdcdcd" stroke-width="0.45"/>
<rect x="364.35" y="179.1" width="7.14" height="7.14" fill="#fff" stroke="#cdcdcd" stroke-width="0.45"/>
<rect x="371.49" y="179.1" width="7.14" height="7.14" fill="#fff" stroke="#cdcdcd" stroke-width="0.45"/>
<rect x="378.63" y="179.1" width="7.14" height="7.14" fill="#fff" stroke="#cdcdcd" stroke-width="0.45"/>
<rect x="385.77" y="179.1" width="7.14" height="7.14" fill="#fff" stroke="#cdcdcd" stroke-width="0.45"/>
<rect x="392.91" y="179.1" width="7.14" height="7.14" fill="#fff" stroke="#cdcdcd" stroke-width="0.45"/>
<rect x="400.05" y="179.1" width="7.14" height="7.14" fill="#fff" stroke="#cdcdcd" stroke-width="0.45"/>
<rect x="407.19" y="179.1" width="7.14" height="7.14" fill="#fff" stroke="#cdcdcd" stroke-width="0.45"/>
<rect x="414.33" y="179.1" width="7.14" height="7.14" fill="#fff" stroke="#cdcdcd" stroke-width="0.45"/>
<rect x="371.49" y="186.24" width="7.14" height="7.14" fill="#fff" stroke="#cdcdcd" stroke-width="0.45"/>
<rect x="378.63" y="186.24" width="7.14" height="7.14" fill="#fff" stroke="#cdcdcd" stroke-width="0.45"/>
<rect x="385.77" y="186.24" width="7.14" height="7.14" fill="#fff" stroke="#cdcdcd" stroke-width="0.45"/>
<rect x="392.91" y="186.24" width="7.14" height="7.14" fill="#fff" stroke="#cdcdcd" stroke-width="0.45"/>
<rect x="400.05" y="186.24" width="7.14" height="7.14" fill="#fff" stroke="#cdcdcd" stroke-width="0.45"/>
<rect x="407.19" y="186.24" width="7.14" height="7.14" fill="#fff" stroke="#cdcdcd" stroke-width="0.45"/>
<rect x="414.33" y="186.24" width="7.14" height="7.14" fill="#fff" stroke="#cdcdcd" stroke-width="0.45"/>
<rect x="378.63" y="193.38" width="7.14" height="7.14" fill="#fff" stroke="#cdcdcd" stroke-width="0.45"/>
<rect x="385.77" y="193.38" width="7.14" height="7.14" fill="#fff" stroke="#cdcdcd" stroke-width="0.45"/>
<rect x="392.91" y="193.38" width="7.14" height="7.14" fill="#fff" stroke="#cdcdcd" stroke-width="0.45"/>
<rect x="400.05" y="193.38" width="7.14" height="7.14" fill="#fff" stroke="#cdcdcd" stroke-width="0.45"/>
<rect x="407.19" y="193.38" width="7.14" height="7.14" fill="#fff" stroke="#cdcdcd" stroke-width="0.45"/>
<rect x="414.33" y="193.38" width="7.14" height="7.14" fill="#fff" stroke="#cdcdcd" stroke-width="0.45"/>
<rect x="385.77" y="200.52" width="7.14" height="7.14" fill="#fff" stroke="#cdcdcd" stroke-width="0.45"/>
<rect x="392.91" y="200.52" width="7.14" height="7.14" fill="#fff" stroke="#cdcdcd" stroke-width="0.45"/>
<rect x="400.05" y="200.52" width="7.14" height="7.14" fill="#fff" stroke="#cdcdcd" stroke-width="0.45"/>
<rect x="407.19" y="200.52" width="7.14" height="7.14" fill="#fff" stroke="#cdcdcd" stroke-width="0.45"/>
<rect x="414.33" y="200.52" width="7.14" height="7.14" fill="#fff" stroke="#cdcdcd" stroke-width="0.45"/>
<rect x="392.91" y="207.66" width="7.14" height="7.14" fill="#fff" stroke="#cdcdcd" stroke-width="0.45"/>
<rect x="400.05" y="207.66" width="7.14" height="7.14" fill="#fff" stroke="#cdcdcd" stroke-width="0.45"/>
<rect x="407.19" y="207.66" width="7.14" height="7.14" fill="#fff" stroke="#cdcdcd" stroke-width="0.45"/>
<rect x="414.33" y="207.66" width="7.14" height="7.14" fill="#fff" stroke="#cdcdcd" stroke-width="0.45"/>
<rect x="400.05" y="214.8" width="7.14" height="7.14" fill="#fff" stroke="#cdcdcd" stroke-width="0.45"/>
<rect x="407.19" y="214.8" width="7.14" height="7.14" fill="#fff" stroke="#cdcdcd" stroke-width="0.45"/>
<rect x="414.33" y="214.8" width="7.14" height="7.14" fill="#fff" stroke="#cdcdcd" stroke-width="0.45"/>
<rect x="407.19" y="221.94" width="7.14" height="7.14" fill="#fff" stroke="#cdcdcd" stroke-width="0.45"/>
<rect x="414.33" y="221.94" width="7.14" height="7.14" fill="#fff" stroke="#cdcdcd" stroke-width="0.45"/>
<rect x="414.33" y="229.08" width="7.14" height="7.14" fill="#fff" stroke="#cdcdcd" stroke-width="0.45"/>
<circle cx="310.8" cy="125.55" r="3.26" fill="#ff2812"/>
<circle cx="317.94" cy="125.55" r="3.26" fill="#fb2b20"/>
<circle cx="325.08" cy="125.55" r="1.65" fill="#c2c0fe"/>
<circle cx="339.36" cy="125.55" r="2.1" fill="#9894fd"/>
<circle cx="346.5" cy="125.55" r="2.1" fill="#9894fd"/>
<circle cx="353.64" cy="125.55" r="1.53" fill="#cccafe"/>
<circle cx="360.78" cy="125.55" r="2.1" fill="#9894fd"/>
<circle cx="367.92" cy="125.55" r="0.88" fill="#fef2f3"/>
<circle cx="375.06" cy="125.55" r="2.43" fill="#7671fd"/>
<circle cx="382.2" cy="125.55" r="1.82" fill="#b3b0fe"/>
<circle cx="389.34" cy="125.55" r="1.53" fill="#cccafe"/>
<circle cx="396.48" cy="125.55" r="0.88" fill="#fef2f3"/>
<circle cx="403.62" cy="125.55" r="2.74" fill="#554efc"/>
<circle cx="410.76" cy="125.55" r="2.54" fill="#6a64fc"/>
<circle cx="417.9" cy="125.55" r="1.45" fill="#fbd2d5"/>
<circle cx="317.94" cy="132.69" r="3.26" fill="#ff2812"/>
<circle cx="325.08" cy="132.69" r="1.97" fill="#a5a2fe"/>
<circle cx="339.36" cy="132.69" r="2.05" fill="#9d9afd"/>
<circle cx="346.5" cy="132.69" r="2.05" fill="#9d9afd"/>
<circle cx="353.64" cy="132.69" r="1.44" fill="#d2d1fe"/>
<circle cx="360.78" cy="132.69" r="2.05" fill="#9d9afd"/>
<circle cx="367.92" cy="132.69" r="1.15" fill="#e5e4ff"/>
<circle cx="375.06" cy="132.69" r="2.43" fill="#7671fd"/>
<circle cx="382.2" cy="132.69" r="1.15" fill="#e5e4ff"/>
<circle cx="389.34" cy="132.69" r="1.15" fill="#e5e4ff"/>
<circle cx="396.48" cy="132.69" r="1.82" fill="#f8b3b8"/>
<circle cx="403.62" cy="132.69" r="3.03" fill="#392ffb"/>
<circle cx="410.76" cy="132.69" r="2.52" fill="#6c66fc"/>
<circle cx="417.9" cy="132.69" r="2.33" fill="#f58186"/>
<circle cx="325.08" cy="139.83" r="3.26" fill="#ff2812"/>
<circle cx="332.22" cy="139.83" r="1.97" fill="#a5a2fe"/>
<circle cx="353.64" cy="139.83" r="1.53" fill="#cccafe"/>
<circle cx="360.78" cy="139.83" r="1.34" fill="#fbd9dc"/>
<circle cx="367.92" cy="139.83" r="1.34" fill="#d9d8fe"/>
<circle cx="375.06" cy="139.83" r="1.15" fill="#fde5e7"/>
<circle cx="382.2" cy="139.83" r="1.65" fill="#c2c0fe"/>
<circle cx="389.34" cy="139.83" r="1.65" fill="#f9c2c6"/>
<circle cx="396.48" cy="139.83" r="1.65" fill="#f9c2c6"/>
<circle cx="403.62" cy="139.83" r="2.33" fill="#f58186"/>
<circle cx="410.76" cy="139.83" r="1.82" fill="#b3b0fe"/>
<circle cx="417.9" cy="139.83" r="2.31" fill="#837efd"/>
<circle cx="332.22" cy="146.97" r="3.26" fill="#ff2812"/>
<circle cx="339.36" cy="146.97" r="1.53" fill="#facccf"/>
<circle cx="346.5" cy="146.97" r="1.53" fill="#facccf"/>
<circle cx="353.64" cy="146.97" r="3.1" fill="#fc2a1d"/>
<circle cx="360.78" cy="146.97" r="3.21" fill="#fa2e25"/>
<circle cx="367.92" cy="146.97" r="1.15" fill="#e5e4ff"/>
<circle cx="375.06" cy="146.97" r="0.88" fill="#fef2f3"/>
<circle cx="382.2" cy="146.97" r="2.84" fill="#f64c4d"/>
<circle cx="389.34" cy="146.97" r="2.1" fill="#f6989e"/>
<circle cx="396.48" cy="146.97" r="1.15" fill="#e5e4ff"/>
<circle cx="403.62" cy="146.97" r="1.15" fill="#fde5e7"/>
<circle cx="410.76" cy="146.97" r="1.89" fill="#adaafe"/>
<circle cx="417.9" cy="146.97" r="1.69" fill="#f9bfc3"/>
<circle cx="339.36" cy="154.11" r="3.26" fill="#ff2812"/>
<circle cx="346.5" cy="154.11" r="3.26" fill="#ff2812"/>
<circle cx="353.64" cy="154.11" r="1.53" fill="#facccf"/>
<circle cx="360.78" cy="154.11" r="2.1" fill="#f6989e"/>
<circle cx="367.92" cy="154.11" r="2.84" fill="#f64c4d"/>
<circle cx="375.06" cy="154.11" r="3.1" fill="#fc2a1d"/>
<circle cx="382.2" cy="154.11" r="1.44" fill="#d2d1fe"/>
<circle cx="389.34" cy="154.11" r="1.53" fill="#facccf"/>
<circle cx="396.48" cy="154.11" r="2.1" fill="#9894fd"/>
<circle cx="403.62" cy="154.11" r="1.34" fill="#fbd9dc"/>
<circle cx="410.76" cy="154.11" r="1.32" fill="#fcdbde"/>
<circle cx="417.9" cy="154.11" r="1.27" fill="#fcdee1"/>
<circle cx="346.5" cy="161.25" r="3.26" fill="#ff2812"/>
<circle cx="353.64" cy="161.25" r="1.53" fill="#facccf"/>
<circle cx="360.78" cy="161.25" r="2.1" fill="#f6989e"/>
<circle cx="367.92" cy="161.25" r="2.84" fill="#f64c4d"/>
<circle cx="375.06" cy="161.25" r="3.1" fill="#fc2a1d"/>
<circle cx="382.2" cy="161.25" r="1.44" fill="#d2d1fe"/>
<circle cx="389.34" cy="161.25" r="1.53" fill="#facccf"/>
<circle cx="396.48" cy="161.25" r="2.1" fill="#9894fd"/>
<circle cx="403.62" cy="161.25" r="1.34" fill="#fbd9dc"/>
<circle cx="410.76" cy="161.25" r="1.32" fill="#fcdbde"/>
<circle cx="417.9" cy="161.25" r="1.27" fill="#fcdee1"/>
<circle cx="353.64" cy="168.39" r="3.26" fill="#ff2812"/>
<circle cx="360.78" cy="168.39" r="3.1" fill="#fc2a1d"/>
<circle cx="367.92" cy="168.39" r="1.44" fill="#d2d1fe"/>
<circle cx="375.06" cy="168.39" r="1.15" fill="#fde5e7"/>
<circle cx="382.2" cy="168.39" r="2.94" fill="#f74342"/>
<circle cx="389.34" cy="168.39" r="2.22" fill="#f68c92"/>
<circle cx="396.48" cy="168.39" r="1.44" fill="#d2d1fe"/>
<circle cx="403.62" cy="168.39" r="1.65" fill="#f9c2c6"/>
<circle cx="410.76" cy="168.39" r="1.69" fill="#bfbdfe"/>
<circle cx="417.9" cy="168.39" r="1.36" fill="#fbd8db"/>
<circle cx="360.78" cy="175.53" r="3.26" fill="#ff2812"/>
<circle cx="367.92" cy="175.53" r="1.15" fill="#e5e4ff"/>
<circle cx="375.06" cy="175.53" r="1.82" fill="#f8b3b8"/>
<circle cx="382.2" cy="175.53" r="2.84" fill="#f64c4d"/>
<circle cx="389.34" cy="175.53" r="2.33" fill="#f58186"/>
<circle cx="396.48" cy="175.53" r="1.97" fill="#a5a2fe"/>
<circle cx="403.62" cy="175.53" r="2.1" fill="#f6989e"/>
<circle cx="410.76" cy="175.53" r="1.1" fill="#e8e7ff"/>
<circle cx="417.9" cy="175.53" r="1.21" fill="#e2e1ff"/>
<circle cx="367.92" cy="182.67" r="3.26" fill="#ff2812"/>
<circle cx="375.06" cy="182.67" r="2.94" fill="#f74342"/>
<circle cx="382.2" cy="182.67" r="2.43" fill="#7671fd"/>
<circle cx="389.34" cy="182.67" r="1.65" fill="#c2c0fe"/>
<circle cx="396.48" cy="182.67" r="1.53" fill="#cccafe"/>
<circle cx="403.62" cy="182.67" r="2.22" fill="#8c88fd"/>
<circle cx="417.9" cy="182.67" r="1.86" fill="#f8b0b5"/>
<circle cx="375.06" cy="189.81" r="3.26" fill="#ff2812"/>
<circle cx="382.2" cy="189.81" r="1.53" fill="#cccafe"/>
<circle cx="389.34" cy="189.81" r="0.88" fill="#fef2f3"/>
<circle cx="396.48" cy="189.81" r="2.22" fill="#8c88fd"/>
<circle cx="403.62" cy="189.81" r="1.53" fill="#facccf"/>
<circle cx="410.76" cy="189.81" r="2.23" fill="#f68b91"/>
<circle cx="417.9" cy="189.81" r="1.36" fill="#d8d7fe"/>
<circle cx="382.2" cy="196.95" r="3.26" fill="#ff2812"/>
<circle cx="389.34" cy="196.95" r="1.97" fill="#f7a5aa"/>
<circle cx="396.48" cy="196.95" r="1.82" fill="#f8b3b8"/>
<circle cx="403.62" cy="196.95" r="1.44" fill="#fbd2d5"/>
<circle cx="410.76" cy="196.95" r="1.1" fill="#e8e7ff"/>
<circle cx="417.9" cy="196.95" r="1.89" fill="#f8adb2"/>
<circle cx="389.34" cy="204.09" r="3.26" fill="#ff2812"/>
<circle cx="396.48" cy="204.09" r="1.97" fill="#f7a5aa"/>
<circle cx="410.76" cy="204.09" r="1.92" fill="#aaa7fe"/>
<circle cx="417.9" cy="204.09" r="1.36" fill="#fbd8db"/>
<circle cx="396.48" cy="211.23" r="3.26" fill="#ff2812"/>
<circle cx="403.62" cy="211.23" r="2.1" fill="#9894fd"/>
<circle cx="410.76" cy="211.23" r="2.15" fill="#938ffd"/>
<circle cx="417.9" cy="211.23" r="3.01" fill="#f83c3a"/>
<circle cx="403.62" cy="218.37" r="3.26" fill="#ff2812"/>
<circle cx="410.76" cy="218.37" r="2.36" fill="#f57e83"/>
<circle cx="417.9" cy="218.37" r="2.52" fill="#6c66fc"/>
<circle cx="410.76" cy="225.51" r="3.26" fill="#ff2812"/>
<circle cx="417.9" cy="225.51" r="2.1" fill="#9995fd"/>
<circle cx="417.9" cy="232.65" r="3.26" fill="#ff2812"/>
<g font-size="6.5" fill="#f23322" stroke="#f23322" stroke-width="0.14">
<text x="303.8" y="127.75" text-anchor="end">Pred_Score</text>
<text transform="translate(313.1,119.58) rotate(-90)">Pred_Score</text>
<text x="310.94" y="134.89" text-anchor="end">Pred_Adherencia</text>
<text transform="translate(320.24,119.58) rotate(-90)">Pred_Adherencia</text>
<text x="318.08" y="142.03" text-anchor="end">Age</text>
<text transform="translate(327.38,119.58) rotate(-90)">Age</text>
<text x="325.22" y="149.17" text-anchor="end">body_fat_mass</text>
<text transform="translate(334.52,119.58) rotate(-90)">body_fat_mass</text>
<text x="332.36" y="156.31" text-anchor="end">soft_lean_mass</text>
<text transform="translate(341.66,119.58) rotate(-90)">soft_lean_mass</text>
<text x="339.5" y="163.45" text-anchor="end">Fat_free_mass</text>
<text transform="translate(348.8,119.58) rotate(-90)">Fat_free_mass</text>
<text x="346.64" y="170.59" text-anchor="end">Visceral_fat</text>
<text transform="translate(355.94,119.58) rotate(-90)">Visceral_fat</text>
<text x="353.78" y="177.73" text-anchor="end">waist_hip_ratio</text>
<text transform="translate(363.08,119.58) rotate(-90)">waist_hip_ratio</text>
<text x="360.92" y="184.87" text-anchor="end">Inbody_50kHz</text>
<text transform="translate(370.22,119.58) rotate(-90)">Inbody_50kHz</text>
<text x="368.06" y="192.01" text-anchor="end">GripStrength</text>
<text transform="translate(377.36,119.58) rotate(-90)">GripStrength</text>
<text x="375.2" y="199.15" text-anchor="end">Chair_Test</text>
<text transform="translate(384.5,119.58) rotate(-90)">Chair_Test</text>
<text x="382.34" y="206.29" text-anchor="end">Normal_WS</text>
<text transform="translate(391.64,119.58) rotate(-90)">Normal_WS</text>
<text x="389.48" y="213.43" text-anchor="end">Fast_WS</text>
<text transform="translate(398.78,119.58) rotate(-90)">Fast_WS</text>
<text x="396.62" y="220.57" text-anchor="end">GDF15</text>
<text transform="translate(405.92,119.58) rotate(-90)">GDF15</text>
<text x="403.76" y="227.71" text-anchor="end">Ves_numb</text>
<text transform="translate(413.06,119.58) rotate(-90)">Ves_numb</text>
<text x="410.9" y="234.85" text-anchor="end">Ves_siz</text>
<text transform="translate(420.2,119.58) rotate(-90)">Ves_siz</text>
</g>
<rect x="423.67" y="122.68" width="4.5" height="113.64" fill="url(#cbar)" stroke="#666" stroke-width="0.5"/>
<g font-size="5" fill="#000" stroke="#000" stroke-width="0.12">
<line x1="428.17" x2="429.37" y1="122.68" y2="122.68" stroke="#888" stroke-width="0.5"/>
<text x="433.77" y="124.48" text-anchor="middle">1</text>
<line x1="428.17" x2="429.37" y1="134.04" y2="134.04" stroke="#888" stroke-width="0.5"/>
<text x="433.77" y="135.84" text-anchor="middle">0.8</text>
<line x1="428.17" x2="429.37" y1="145.41" y2="145.41" stroke="#888" stroke-width="0.5"/>
<text x="433.77" y="147.21" text-anchor="middle">0.6</text>
<line x1="428.17" x2="429.37" y1="156.77" y2="156.77" stroke="#888" stroke-width="0.5"/>
<text x="433.77" y="158.57" text-anchor="middle">0.4</text>
<line x1="428.17" x2="429.37" y1="168.14" y2="168.14" stroke="#888" stroke-width="0.5"/>
<text x="433.77" y="169.94" text-anchor="middle">0.2</text>
<line x1="428.17" x2="429.37" y1="179.5" y2="179.5" stroke="#888" stroke-width="0.5"/>
<text x="433.77" y="181.3" text-anchor="middle">0</text>
<line x1="428.17" x2="429.37" y1="190.86" y2="190.86" stroke="#888" stroke-width="0.5"/>
<text x="433.77" y="192.66" text-anchor="middle">-0.2</text>
<line x1="428.17" x2="429.37" y1="202.23" y2="202.23" stroke="#888" stroke-width="0.5"/>
<text x="433.77" y="204.03" text-anchor="middle">-0.4</text>
<line x1="428.17" x2="429.37" y1="213.59" y2="213.59" stroke="#888" stroke-width="0.5"/>
<text x="433.77" y="215.39" text-anchor="middle">-0.6</text>
<line x1="428.17" x2="429.37" y1="224.96" y2="224.96" stroke="#888" stroke-width="0.5"/>
<text x="433.77" y="226.76" text-anchor="middle">-0.8</text>
<line x1="428.17" x2="429.37" y1="236.32" y2="236.32" stroke="#888" stroke-width="0.5"/>
<text x="433.77" y="238.12" text-anchor="middle">-1</text>
</g>
<rect x="552.23" y="127.13" width="7.14" height="7.14" fill="#fff" stroke="#cdcdcd" stroke-width="0.45"/>
<rect x="559.37" y="127.13" width="7.14" height="7.14" fill="#fff" stroke="#cdcdcd" stroke-width="0.45"/>
<rect x="566.51" y="127.13" width="7.14" height="7.14" fill="#fff" stroke="#cdcdcd" stroke-width="0.45"/>
<rect x="573.65" y="127.13" width="7.14" height="7.14" fill="#fff" stroke="#cdcdcd" stroke-width="0.45"/>
<rect x="580.79" y="127.13" width="7.14" height="7.14" fill="#fff" stroke="#cdcdcd" stroke-width="0.45"/>
<rect x="587.93" y="127.13" width="7.14" height="7.14" fill="#fff" stroke="#cdcdcd" stroke-width="0.45"/>
<rect x="595.07" y="127.13" width="7.14" height="7.14" fill="#fff" stroke="#cdcdcd" stroke-width="0.45"/>
<rect x="602.21" y="127.13" width="7.14" height="7.14" fill="#fff" stroke="#cdcdcd" stroke-width="0.45"/>
<rect x="609.35" y="127.13" width="7.14" height="7.14" fill="#fff" stroke="#cdcdcd" stroke-width="0.45"/>
<rect x="616.49" y="127.13" width="7.14" height="7.14" fill="#fff" stroke="#cdcdcd" stroke-width="0.45"/>
<rect x="623.63" y="127.13" width="7.14" height="7.14" fill="#fff" stroke="#cdcdcd" stroke-width="0.45"/>
<rect x="630.77" y="127.13" width="7.14" height="7.14" fill="#fff" stroke="#cdcdcd" stroke-width="0.45"/>
<rect x="637.91" y="127.13" width="7.14" height="7.14" fill="#fff" stroke="#cdcdcd" stroke-width="0.45"/>
<rect x="645.05" y="127.13" width="7.14" height="7.14" fill="#fff" stroke="#cdcdcd" stroke-width="0.45"/>
<rect x="652.19" y="127.13" width="7.14" height="7.14" fill="#fff" stroke="#cdcdcd" stroke-width="0.45"/>
<rect x="659.33" y="127.13" width="7.14" height="7.14" fill="#fff" stroke="#cdcdcd" stroke-width="0.45"/>
<rect x="559.37" y="134.27" width="7.14" height="7.14" fill="#fff" stroke="#cdcdcd" stroke-width="0.45"/>
<rect x="566.51" y="134.27" width="7.14" height="7.14" fill="#fff" stroke="#cdcdcd" stroke-width="0.45"/>
<rect x="573.65" y="134.27" width="7.14" height="7.14" fill="#fff" stroke="#cdcdcd" stroke-width="0.45"/>
<rect x="580.79" y="134.27" width="7.14" height="7.14" fill="#fff" stroke="#cdcdcd" stroke-width="0.45"/>
<rect x="587.93" y="134.27" width="7.14" height="7.14" fill="#fff" stroke="#cdcdcd" stroke-width="0.45"/>
<rect x="595.07" y="134.27" width="7.14" height="7.14" fill="#fff" stroke="#cdcdcd" stroke-width="0.45"/>
<rect x="602.21" y="134.27" width="7.14" height="7.14" fill="#fff" stroke="#cdcdcd" stroke-width="0.45"/>
<rect x="609.35" y="134.27" width="7.14" height="7.14" fill="#fff" stroke="#cdcdcd" stroke-width="0.45"/>
<rect x="616.49" y="134.27" width="7.14" height="7.14" fill="#fff" stroke="#cdcdcd" stroke-width="0.45"/>
<rect x="623.63" y="134.27" width="7.14" height="7.14" fill="#fff" stroke="#cdcdcd" stroke-width="0.45"/>
<rect x="630.77" y="134.27" width="7.14" height="7.14" fill="#fff" stroke="#cdcdcd" stroke-width="0.45"/>
<rect x="637.91" y="134.27" width="7.14" height="7.14" fill="#fff" stroke="#cdcdcd" stroke-width="0.45"/>
<rect x="645.05" y="134.27" width="7.14" height="7.14" fill="#fff" stroke="#cdcdcd" stroke-width="0.45"/>
<rect x="652.19" y="134.27" width="7.14" height="7.14" fill="#fff" stroke="#cdcdcd" stroke-width="0.45"/>
<rect x="659.33" y="134.27" width="7.14" height="7.14" fill="#fff" stroke="#cdcdcd" stroke-width="0.45"/>
<rect x="566.51" y="141.41" width="7.14" height="7.14" fill="#fff" stroke="#cdcdcd" stroke-width="0.45"/>
<rect x="573.65" y="141.41" width="7.14" height="7.14" fill="#fff" stroke="#cdcdcd" stroke-width="0.45"/>
<rect x="580.79" y="141.41" width="7.14" height="7.14" fill="#fff" stroke="#cdcdcd" stroke-width="0.45"/>
<rect x="587.93" y="141.41" width="7.14" height="7.14" fill="#fff" stroke="#cdcdcd" stroke-width="0.45"/>
<rect x="595.07" y="141.41" width="7.14" height="7.14" fill="#fff" stroke="#cdcdcd" stroke-width="0.45"/>
<rect x="602.21" y="141.41" width="7.14" height="7.14" fill="#fff" stroke="#cdcdcd" stroke-width="0.45"/>
<rect x="609.35" y="141.41" width="7.14" height="7.14" fill="#fff" stroke="#cdcdcd" stroke-width="0.45"/>
<rect x="616.49" y="141.41" width="7.14" height="7.14" fill="#fff" stroke="#cdcdcd" stroke-width="0.45"/>
<rect x="623.63" y="141.41" width="7.14" height="7.14" fill="#fff" stroke="#cdcdcd" stroke-width="0.45"/>
<rect x="630.77" y="141.41" width="7.14" height="7.14" fill="#fff" stroke="#cdcdcd" stroke-width="0.45"/>
<rect x="637.91" y="141.41" width="7.14" height="7.14" fill="#fff" stroke="#cdcdcd" stroke-width="0.45"/>
<rect x="645.05" y="141.41" width="7.14" height="7.14" fill="#fff" stroke="#cdcdcd" stroke-width="0.45"/>
<rect x="652.19" y="141.41" width="7.14" height="7.14" fill="#fff" stroke="#cdcdcd" stroke-width="0.45"/>
<rect x="659.33" y="141.41" width="7.14" height="7.14" fill="#fff" stroke="#cdcdcd" stroke-width="0.45"/>
<rect x="573.65" y="148.55" width="7.14" height="7.14" fill="#fff" stroke="#cdcdcd" stroke-width="0.45"/>
<rect x="580.79" y="148.55" width="7.14" height="7.14" fill="#fff" stroke="#cdcdcd" stroke-width="0.45"/>
<rect x="587.93" y="148.55" width="7.14" height="7.14" fill="#fff" stroke="#cdcdcd" stroke-width="0.45"/>
<rect x="595.07" y="148.55" width="7.14" height="7.14" fill="#fff" stroke="#cdcdcd" stroke-width="0.45"/>
<rect x="602.21" y="148.55" width="7.14" height="7.14" fill="#fff" stroke="#cdcdcd" stroke-width="0.45"/>
<rect x="609.35" y="148.55" width="7.14" height="7.14" fill="#fff" stroke="#cdcdcd" stroke-width="0.45"/>
<rect x="616.49" y="148.55" width="7.14" height="7.14" fill="#fff" stroke="#cdcdcd" stroke-width="0.45"/>
<rect x="623.63" y="148.55" width="7.14" height="7.14" fill="#fff" stroke="#cdcdcd" stroke-width="0.45"/>
<rect x="630.77" y="148.55" width="7.14" height="7.14" fill="#fff" stroke="#cdcdcd" stroke-width="0.45"/>
<rect x="637.91" y="148.55" width="7.14" height="7.14" fill="#fff" stroke="#cdcdcd" stroke-width="0.45"/>
<rect x="645.05" y="148.55" width="7.14" height="7.14" fill="#fff" stroke="#cdcdcd" stroke-width="0.45"/>
<rect x="652.19" y="148.55" width="7.14" height="7.14" fill="#fff" stroke="#cdcdcd" stroke-width="0.45"/>
<rect x="659.33" y="148.55" width="7.14" height="7.14" fill="#fff" stroke="#cdcdcd" stroke-width="0.45"/>
<rect x="580.79" y="155.69" width="7.14" height="7.14" fill="#fff" stroke="#cdcdcd" stroke-width="0.45"/>
<rect x="587.93" y="155.69" width="7.14" height="7.14" fill="#fff" stroke="#cdcdcd" stroke-width="0.45"/>
<rect x="595.07" y="155.69" width="7.14" height="7.14" fill="#fff" stroke="#cdcdcd" stroke-width="0.45"/>
<rect x="602.21" y="155.69" width="7.14" height="7.14" fill="#fff" stroke="#cdcdcd" stroke-width="0.45"/>
<rect x="609.35" y="155.69" width="7.14" height="7.14" fill="#fff" stroke="#cdcdcd" stroke-width="0.45"/>
<rect x="616.49" y="155.69" width="7.14" height="7.14" fill="#fff" stroke="#cdcdcd" stroke-width="0.45"/>
<rect x="623.63" y="155.69" width="7.14" height="7.14" fill="#fff" stroke="#cdcdcd" stroke-width="0.45"/>
<rect x="630.77" y="155.69" width="7.14" height="7.14" fill="#fff" stroke="#cdcdcd" stroke-width="0.45"/>
<rect x="637.91" y="155.69" width="7.14" height="7.14" fill="#fff" stroke="#cdcdcd" stroke-width="0.45"/>
<rect x="645.05" y="155.69" width="7.14" height="7.14" fill="#fff" stroke="#cdcdcd" stroke-width="0.45"/>
<rect x="652.19" y="155.69" width="7.14" height="7.14" fill="#fff" stroke="#cdcdcd" stroke-width="0.45"/>
<rect x="659.33" y="155.69" width="7.14" height="7.14" fill="#fff" stroke="#cdcdcd" stroke-width="0.45"/>
<rect x="587.93" y="162.83" width="7.14" height="7.14" fill="#fff" stroke="#cdcdcd" stroke-width="0.45"/>
<rect x="595.07" y="162.83" width="7.14" height="7.14" fill="#fff" stroke="#cdcdcd" stroke-width="0.45"/>
<rect x="602.21" y="162.83" width="7.14" height="7.14" fill="#fff" stroke="#cdcdcd" stroke-width="0.45"/>
<rect x="609.35" y="162.83" width="7.14" height="7.14" fill="#fff" stroke="#cdcdcd" stroke-width="0.45"/>
<rect x="616.49" y="162.83" width="7.14" height="7.14" fill="#fff" stroke="#cdcdcd" stroke-width="0.45"/>
<rect x="623.63" y="162.83" width="7.14" height="7.14" fill="#fff" stroke="#cdcdcd" stroke-width="0.45"/>
<rect x="630.77" y="162.83" width="7.14" height="7.14" fill="#fff" stroke="#cdcdcd" stroke-width="0.45"/>
<rect x="637.91" y="162.83" width="7.14" height="7.14" fill="#fff" stroke="#cdcdcd" stroke-width="0.45"/>
<rect x="645.05" y="162.83" width="7.14" height="7.14" fill="#fff" stroke="#cdcdcd" stroke-width="0.45"/>
<rect x="652.19" y="162.83" width="7.14" height="7.14" fill="#fff" stroke="#cdcdcd" stroke-width="0.45"/>
<rect x="659.33" y="162.83" width="7.14" height="7.14" fill="#fff" stroke="#cdcdcd" stroke-width="0.45"/>
<rect x="595.07" y="169.97" width="7.14" height="7.14" fill="#fff" stroke="#cdcdcd" stroke-width="0.45"/>
<rect x="602.21" y="169.97" width="7.14" height="7.14" fill="#fff" stroke="#cdcdcd" stroke-width="0.45"/>
<rect x="609.35" y="169.97" width="7.14" height="7.14" fill="#fff" stroke="#cdcdcd" stroke-width="0.45"/>
<rect x="616.49" y="169.97" width="7.14" height="7.14" fill="#fff" stroke="#cdcdcd" stroke-width="0.45"/>
<rect x="623.63" y="169.97" width="7.14" height="7.14" fill="#fff" stroke="#cdcdcd" stroke-width="0.45"/>
<rect x="630.77" y="169.97" width="7.14" height="7.14" fill="#fff" stroke="#cdcdcd" stroke-width="0.45"/>
<rect x="637.91" y="169.97" width="7.14" height="7.14" fill="#fff" stroke="#cdcdcd" stroke-width="0.45"/>
<rect x="645.05" y="169.97" width="7.14" height="7.14" fill="#fff" stroke="#cdcdcd" stroke-width="0.45"/>
<rect x="652.19" y="169.97" width="7.14" height="7.14" fill="#fff" stroke="#cdcdcd" stroke-width="0.45"/>
<rect x="659.33" y="169.97" width="7.14" height="7.14" fill="#fff" stroke="#cdcdcd" stroke-width="0.45"/>
<rect x="602.21" y="177.11" width="7.14" height="7.14" fill="#fff" stroke="#cdcdcd" stroke-width="0.45"/>
<rect x="609.35" y="177.11" width="7.14" height="7.14" fill="#fff" stroke="#cdcdcd" stroke-width="0.45"/>
<rect x="616.49" y="177.11" width="7.14" height="7.14" fill="#fff" stroke="#cdcdcd" stroke-width="0.45"/>
<rect x="623.63" y="177.11" width="7.14" height="7.14" fill="#fff" stroke="#cdcdcd" stroke-width="0.45"/>
<rect x="630.77" y="177.11" width="7.14" height="7.14" fill="#fff" stroke="#cdcdcd" stroke-width="0.45"/>
<rect x="637.91" y="177.11" width="7.14" height="7.14" fill="#fff" stroke="#cdcdcd" stroke-width="0.45"/>
<rect x="645.05" y="177.11" width="7.14" height="7.14" fill="#fff" stroke="#cdcdcd" stroke-width="0.45"/>
<rect x="652.19" y="177.11" width="7.14" height="7.14" fill="#fff" stroke="#cdcdcd" stroke-width="0.45"/>
<rect x="659.33" y="177.11" width="7.14" height="7.14" fill="#fff" stroke="#cdcdcd" stroke-width="0.45"/>
<rect x="609.35" y="184.25" width="7.14" height="7.14" fill="#fff" stroke="#cdcdcd" stroke-width="0.45"/>
<rect x="616.49" y="184.25" width="7.14" height="7.14" fill="#fff" stroke="#cdcdcd" stroke-width="0.45"/>
<rect x="623.63" y="184.25" width="7.14" height="7.14" fill="#fff" stroke="#cdcdcd" stroke-width="0.45"/>
<rect x="630.77" y="184.25" width="7.14" height="7.14" fill="#fff" stroke="#cdcdcd" stroke-width="0.45"/>
<rect x="637.91" y="184.25" width="7.14" height="7.14" fill="#fff" stroke="#cdcdcd" stroke-width="0.45"/>
<rect x="645.05" y="184.25" width="7.14" height="7.14" fill="#fff" stroke="#cdcdcd" stroke-width="0.45"/>
<rect x="652.19" y="184.25" width="7.14" height="7.14" fill="#fff" stroke="#cdcdcd" stroke-width="0.45"/>
<rect x="659.33" y="184.25" width="7.14" height="7.14" fill="#fff" stroke="#cdcdcd" stroke-width="0.45"/>
<rect x="616.49" y="191.39" width="7.14" height="7.14" fill="#fff" stroke="#cdcdcd" stroke-width="0.45"/>
<rect x="623.63" y="191.39" width="7.14" height="7.14" fill="#fff" stroke="#cdcdcd" stroke-width="0.45"/>
<rect x="630.77" y="191.39" width="7.14" height="7.14" fill="#fff" stroke="#cdcdcd" stroke-width="0.45"/>
<rect x="637.91" y="191.39" width="7.14" height="7.14" fill="#fff" stroke="#cdcdcd" stroke-width="0.45"/>
<rect x="645.05" y="191.39" width="7.14" height="7.14" fill="#fff" stroke="#cdcdcd" stroke-width="0.45"/>
<rect x="652.19" y="191.39" width="7.14" height="7.14" fill="#fff" stroke="#cdcdcd" stroke-width="0.45"/>
<rect x="659.33" y="191.39" width="7.14" height="7.14" fill="#fff" stroke="#cdcdcd" stroke-width="0.45"/>
<rect x="623.63" y="198.53" width="7.14" height="7.14" fill="#fff" stroke="#cdcdcd" stroke-width="0.45"/>
<rect x="630.77" y="198.53" width="7.14" height="7.14" fill="#fff" stroke="#cdcdcd" stroke-width="0.45"/>
<rect x="637.91" y="198.53" width="7.14" height="7.14" fill="#fff" stroke="#cdcdcd" stroke-width="0.45"/>
<rect x="645.05" y="198.53" width="7.14" height="7.14" fill="#fff" stroke="#cdcdcd" stroke-width="0.45"/>
<rect x="652.19" y="198.53" width="7.14" height="7.14" fill="#fff" stroke="#cdcdcd" stroke-width="0.45"/>
<rect x="659.33" y="198.53" width="7.14" height="7.14" fill="#fff" stroke="#cdcdcd" stroke-width="0.45"/>
<rect x="630.77" y="205.67" width="7.14" height="7.14" fill="#fff" stroke="#cdcdcd" stroke-width="0.45"/>
<rect x="637.91" y="205.67" width="7.14" height="7.14" fill="#fff" stroke="#cdcdcd" stroke-width="0.45"/>
<rect x="645.05" y="205.67" width="7.14" height="7.14" fill="#fff" stroke="#cdcdcd" stroke-width="0.45"/>
<rect x="652.19" y="205.67" width="7.14" height="7.14" fill="#fff" stroke="#cdcdcd" stroke-width="0.45"/>
<rect x="659.33" y="205.67" width="7.14" height="7.14" fill="#fff" stroke="#cdcdcd" stroke-width="0.45"/>
<rect x="637.91" y="212.81" width="7.14" height="7.14" fill="#fff" stroke="#cdcdcd" stroke-width="0.45"/>
<rect x="645.05" y="212.81" width="7.14" height="7.14" fill="#fff" stroke="#cdcdcd" stroke-width="0.45"/>
<rect x="652.19" y="212.81" width="7.14" height="7.14" fill="#fff" stroke="#cdcdcd" stroke-width="0.45"/>
<rect x="659.33" y="212.81" width="7.14" height="7.14" fill="#fff" stroke="#cdcdcd" stroke-width="0.45"/>
<rect x="645.05" y="219.95" width="7.14" height="7.14" fill="#fff" stroke="#cdcdcd" stroke-width="0.45"/>
<rect x="652.19" y="219.95" width="7.14" height="7.14" fill="#fff" stroke="#cdcdcd" stroke-width="0.45"/>
<rect x="659.33" y="219.95" width="7.14" height="7.14" fill="#fff" stroke="#cdcdcd" stroke-width="0.45"/>
<rect x="652.19" y="227.09" width="7.14" height="7.14" fill="#fff" stroke="#cdcdcd" stroke-width="0.45"/>
<rect x="659.33" y="227.09" width="7.14" height="7.14" fill="#fff" stroke="#cdcdcd" stroke-width="0.45"/>
<rect x="659.33" y="234.23" width="7.14" height="7.14" fill="#fff" stroke="#cdcdcd" stroke-width="0.45"/>
<circle cx="555.8" cy="130.7" r="3.26" fill="#ff2812"/>
<circle cx="562.94" cy="130.7" r="3.23" fill="#fb2d24"/>
<circle cx="570.08" cy="130.7" r="2.1" fill="#f6989e"/>
<circle cx="577.22" cy="130.7" r="2.43" fill="#7671fd"/>
<circle cx="584.36" cy="130.7" r="1.97" fill="#f7a5aa"/>
<circle cx="591.5" cy="130.7" r="1.97" fill="#f7a5aa"/>
<circle cx="598.64" cy="130.7" r="2.52" fill="#6c66fc"/>
<circle cx="605.78" cy="130.7" r="0.99" fill="#fdeeef"/>
<circle cx="612.92" cy="130.7" r="1.44" fill="#d2d1fe"/>
<circle cx="620.06" cy="130.7" r="1.53" fill="#facccf"/>
<circle cx="627.2" cy="130.7" r="1.15" fill="#fde5e7"/>
<circle cx="634.34" cy="130.7" r="2.1" fill="#f6989e"/>
<circle cx="641.48" cy="130.7" r="0.99" fill="#fdeeef"/>
<circle cx="648.62" cy="130.7" r="2.1" fill="#f6989e"/>
<circle cx="655.76" cy="130.7" r="1.92" fill="#f7aaaf"/>
<circle cx="662.9" cy="130.7" r="1.92" fill="#aaa7fe"/>
<circle cx="562.94" cy="137.84" r="3.26" fill="#ff2812"/>
<circle cx="570.08" cy="137.84" r="1.97" fill="#f7a5aa"/>
<circle cx="577.22" cy="137.84" r="2.22" fill="#8c88fd"/>
<circle cx="584.36" cy="137.84" r="2.1" fill="#f6989e"/>
<circle cx="591.5" cy="137.84" r="2.1" fill="#f6989e"/>
<circle cx="598.64" cy="137.84" r="2.22" fill="#8c88fd"/>
<circle cx="612.92" cy="137.84" r="1.44" fill="#d2d1fe"/>
<circle cx="620.06" cy="137.84" r="1.34" fill="#fbd9dc"/>
<circle cx="627.2" cy="137.84" r="2.22" fill="#f68c92"/>
<circle cx="634.34" cy="137.84" r="1.44" fill="#fbd2d5"/>
<circle cx="641.48" cy="137.84" r="1.44" fill="#fbd2d5"/>
<circle cx="648.62" cy="137.84" r="2.1" fill="#f6989e"/>
<circle cx="655.76" cy="137.84" r="1.89" fill="#f8adb2"/>
<circle cx="662.9" cy="137.84" r="0.81" fill="#f5f5ff"/>
<circle cx="570.08" cy="144.98" r="3.26" fill="#ff2812"/>
<circle cx="577.22" cy="144.98" r="1.15" fill="#e5e4ff"/>
<circle cx="584.36" cy="144.98" r="1.34" fill="#d9d8fe"/>
<circle cx="591.5" cy="144.98" r="1.34" fill="#d9d8fe"/>
<circle cx="598.64" cy="144.98" r="1.34" fill="#d9d8fe"/>
<circle cx="612.92" cy="144.98" r="2.52" fill="#6c66fc"/>
<circle cx="620.06" cy="144.98" r="1.82" fill="#b3b0fe"/>
<circle cx="627.2" cy="144.98" r="2.22" fill="#f68c92"/>
<circle cx="634.34" cy="144.98" r="2.52" fill="#f56d71"/>
<circle cx="641.48" cy="144.98" r="2.74" fill="#f55659"/>
<circle cx="648.62" cy="144.98" r="2.1" fill="#f6989e"/>
<circle cx="655.76" cy="144.98" r="2.31" fill="#f58389"/>
<circle cx="662.9" cy="144.98" r="2.43" fill="#7671fd"/>
<circle cx="577.22" cy="152.12" r="3.26" fill="#ff2812"/>
<circle cx="598.64" cy="152.12" r="3.1" fill="#fc2a1d"/>
<circle cx="605.78" cy="152.12" r="2.74" fill="#f55659"/>
<circle cx="620.06" cy="152.12" r="1.15" fill="#e5e4ff"/>
<circle cx="627.2" cy="152.12" r="1.65" fill="#f9c2c6"/>
<circle cx="641.48" cy="152.12" r="1.53" fill="#cccafe"/>
<circle cx="648.62" cy="152.12" r="2.1" fill="#9894fd"/>
<circle cx="655.76" cy="152.12" r="1.32" fill="#fcdbde"/>
<circle cx="662.9" cy="152.12" r="2.33" fill="#f58186"/>
<circle cx="584.36" cy="159.26" r="3.26" fill="#ff2812"/>
<circle cx="591.5" cy="159.26" r="3.26" fill="#ff2812"/>
<circle cx="598.64" cy="159.26" r="1.44" fill="#d2d1fe"/>
<circle cx="605.78" cy="159.26" r="1.53" fill="#facccf"/>
<circle cx="612.92" cy="159.26" r="2.94" fill="#f74342"/>
<circle cx="620.06" cy="159.26" r="3.21" fill="#fa2e25"/>
<circle cx="627.2" cy="159.26" r="1.15" fill="#fde5e7"/>
<circle cx="634.34" cy="159.26" r="2.1" fill="#f6989e"/>
<circle cx="641.48" cy="159.26" r="2.63" fill="#605afc"/>
<circle cx="648.62" cy="159.26" r="1.82" fill="#f8b3b8"/>
<circle cx="655.76" cy="159.26" r="0.57" fill="#fffcfc"/>
<circle cx="662.9" cy="159.26" r="0.89" fill="#f2f1ff"/>
<circle cx="591.5" cy="166.4" r="3.26" fill="#ff2812"/>
<circle cx="598.64" cy="166.4" r="1.44" fill="#d2d1fe"/>
<circle cx="605.78" cy="166.4" r="1.53" fill="#facccf"/>
<circle cx="612.92" cy="166.4" r="2.94" fill="#f74342"/>
<circle cx="620.06" cy="166.4" r="3.21" fill="#fa2e25"/>
<circle cx="627.2" cy="166.4" r="1.15" fill="#fde5e7"/>
<circle cx="634.34" cy="166.4" r="2.1" fill="#f6989e"/>
<circle cx="641.48" cy="166.4" r="2.63" fill="#605afc"/>
<circle cx="648.62" cy="166.4" r="1.82" fill="#f8b3b8"/>
<circle cx="655.76" cy="166.4" r="0.57" fill="#fffcfc"/>
<circle cx="662.9" cy="166.4" r="0.89" fill="#f2f1ff"/>
<circle cx="598.64" cy="173.54" r="3.26" fill="#ff2812"/>
<circle cx="605.78" cy="173.54" r="2.94" fill="#f74342"/>
<circle cx="612.92" cy="173.54" r="1.34" fill="#d9d8fe"/>
<circle cx="620.06" cy="173.54" r="1.65" fill="#c2c0fe"/>
<circle cx="627.2" cy="173.54" r="1.82" fill="#f8b3b8"/>
<circle cx="634.34" cy="173.54" r="1.15" fill="#e5e4ff"/>
<circle cx="641.48" cy="173.54" r="1.44" fill="#d2d1fe"/>
<circle cx="648.62" cy="173.54" r="2.1" fill="#9894fd"/>
<circle cx="655.76" cy="173.54" r="1.49" fill="#facfd2"/>
<circle cx="662.9" cy="173.54" r="2.38" fill="#f57b81"/>
<circle cx="605.78" cy="180.68" r="3.26" fill="#ff2812"/>
<circle cx="620.06" cy="180.68" r="1.34" fill="#fbd9dc"/>
<circle cx="627.2" cy="180.68" r="2.1" fill="#f6989e"/>
<circle cx="634.34" cy="180.68" r="1.65" fill="#f9c2c6"/>
<circle cx="641.48" cy="180.68" r="1.44" fill="#fbd2d5"/>
<circle cx="648.62" cy="180.68" r="1.82" fill="#b3b0fe"/>
<circle cx="655.76" cy="180.68" r="2.26" fill="#f6888e"/>
<circle cx="662.9" cy="180.68" r="1.41" fill="#fbd5d8"/>
<circle cx="612.92" cy="187.82" r="3.26" fill="#ff2812"/>
<circle cx="620.06" cy="187.82" r="2.94" fill="#f74342"/>
<circle cx="627.2" cy="187.82" r="2.33" fill="#817cfd"/>
<circle cx="634.34" cy="187.82" r="1.53" fill="#facccf"/>
<circle cx="641.48" cy="187.82" r="2.52" fill="#6c66fc"/>
<circle cx="648.62" cy="187.82" r="1.65" fill="#f9c2c6"/>
<circle cx="655.76" cy="187.82" r="2.41" fill="#7973fd"/>
<circle cx="662.9" cy="187.82" r="0.97" fill="#fdeff0"/>
<circle cx="620.06" cy="194.96" r="3.26" fill="#ff2812"/>
<circle cx="627.2" cy="194.96" r="1.44" fill="#d2d1fe"/>
<circle cx="634.34" cy="194.96" r="1.82" fill="#f8b3b8"/>
<circle cx="641.48" cy="194.96" r="2.52" fill="#6c66fc"/>
<circle cx="648.62" cy="194.96" r="2.1" fill="#f6989e"/>
<circle cx="655.76" cy="194.96" r="1.04" fill="#ebebff"/>
<circle cx="662.9" cy="194.96" r="1.41" fill="#d5d3fe"/>
<circle cx="627.2" cy="202.1" r="3.26" fill="#ff2812"/>
<circle cx="641.48" cy="202.1" r="1.65" fill="#f9c2c6"/>
<circle cx="648.62" cy="202.1" r="1.15" fill="#e5e4ff"/>
<circle cx="655.76" cy="202.1" r="2.8" fill="#f65052"/>
<circle cx="662.9" cy="202.1" r="0.81" fill="#f5f5ff"/>
<circle cx="634.34" cy="209.24" r="3.26" fill="#ff2812"/>
<circle cx="641.48" cy="209.24" r="1.97" fill="#f7a5aa"/>
<circle cx="648.62" cy="209.24" r="0.99" fill="#fdeeef"/>
<circle cx="655.76" cy="209.24" r="2.41" fill="#f5797e"/>
<circle cx="662.9" cy="209.24" r="1.36" fill="#d8d7fe"/>
<circle cx="641.48" cy="216.38" r="3.26" fill="#ff2812"/>
<circle cx="648.62" cy="216.38" r="1.82" fill="#b3b0fe"/>
<circle cx="655.76" cy="216.38" r="2.23" fill="#f68b91"/>
<circle cx="662.9" cy="216.38" r="1.65" fill="#c2c0fe"/>
<circle cx="648.62" cy="223.52" r="3.26" fill="#ff2812"/>
<circle cx="655.76" cy="223.52" r="1.92" fill="#aaa7fe"/>
<circle cx="662.9" cy="223.52" r="2.15" fill="#938ffd"/>
<circle cx="655.76" cy="230.66" r="3.26" fill="#ff2812"/>
<circle cx="662.9" cy="230.66" r="0.7" fill="#fef8f9"/>
<circle cx="662.9" cy="237.8" r="3.26" fill="#ff2812"/>
<g font-size="6.5" fill="#f23322" stroke="#f23322" stroke-width="0.14">
<text x="548.8" y="132.9" text-anchor="end">Pred_Score</text>
<text transform="translate(558.1,124.73) rotate(-90)">Pred_Score</text>
<text x="555.94" y="140.04" text-anchor="end">Pred_Adherencia</text>
<text transform="translate(565.24,124.73) rotate(-90)">Pred_Adherencia</text>
<text x="563.08" y="147.18" text-anchor="end">Age</text>
<text transform="translate(572.38,124.73) rotate(-90)">Age</text>
<text x="570.22" y="154.32" text-anchor="end">body_fat_mass</text>
<text transform="translate(579.52,124.73) rotate(-90)">body_fat_mass</text>
<text x="577.36" y="161.46" text-anchor="end">soft_lean_mass</text>
<text transform="translate(586.66,124.73) rotate(-90)">soft_lean_mass</text>
<text x="584.5" y="168.6" text-anchor="end">Fat_free_mass</text>
<text transform="translate(593.8,124.73) rotate(-90)">Fat_free_mass</text>
<text x="591.64" y="175.74" text-anchor="end">Visceral_fat</text>
<text transform="translate(600.94,124.73) rotate(-90)">Visceral_fat</text>
<text x="598.78" y="182.88" text-anchor="end">waist_hip_ratio</text>
<text transform="translate(608.08,124.73) rotate(-90)">waist_hip_ratio</text>
<text x="605.92" y="190.02" text-anchor="end">Inbody_50kHz</text>
<text transform="translate(615.22,124.73) rotate(-90)">Inbody_50kHz</text>
<text x="613.06" y="197.16" text-anchor="end">GripStrength</text>
<text transform="translate(622.36,124.73) rotate(-90)">GripStrength</text>
<text x="620.2" y="204.3" text-anchor="end">Chair_Test</text>
<text transform="translate(629.5,124.73) rotate(-90)">Chair_Test</text>
<text x="627.34" y="211.44" text-anchor="end">Normal_WS</text>
<text transform="translate(636.64,124.73) rotate(-90)">Normal_WS</text>
<text x="634.48" y="218.58" text-anchor="end">Fast_WS</text>
<text transform="translate(643.78,124.73) rotate(-90)">Fast_WS</text>
<text x="641.62" y="225.72" text-anchor="end">GDF15</text>
<text transform="translate(650.92,124.73) rotate(-90)">GDF15</text>
<text x="648.76" y="232.86" text-anchor="end">Ves_numb</text>
<text transform="translate(658.06,124.73) rotate(-90)">Ves_numb</text>
<text x="655.9" y="240" text-anchor="end">Ves_siz</text>
<text transform="translate(665.2,124.73) rotate(-90)">Ves_siz</text>
</g>
<rect x="668.67" y="127.83" width="4.5" height="113.64" fill="url(#cbar)" stroke="#666" stroke-width="0.5"/>
<g font-size="5" fill="#000" stroke="#000" stroke-width="0.12">
<line x1="673.17" x2="674.37" y1="127.83" y2="127.83" stroke="#888" stroke-width="0.5"/>
<text x="678.77" y="129.63" text-anchor="middle">1</text>
<line x1="673.17" x2="674.37" y1="139.19" y2="139.19" stroke="#888" stroke-width="0.5"/>
<text x="678.77" y="140.99" text-anchor="middle">0.8</text>
<line x1="673.17" x2="674.37" y1="150.56" y2="150.56" stroke="#888" stroke-width="0.5"/>
<text x="678.77" y="152.36" text-anchor="middle">0.6</text>
<line x1="673.17" x2="674.37" y1="161.92" y2="161.92" stroke="#888" stroke-width="0.5"/>
<text x="678.77" y="163.72" text-anchor="middle">0.4</text>
<line x1="673.17" x2="674.37" y1="173.29" y2="173.29" stroke="#888" stroke-width="0.5"/>
<text x="678.77" y="175.09" text-anchor="middle">0.2</text>
<line x1="673.17" x2="674.37" y1="184.65" y2="184.65" stroke="#888" stroke-width="0.5"/>
<text x="678.77" y="186.45" text-anchor="middle">0</text>
<line x1="673.17" x2="674.37" y1="196.01" y2="196.01" stroke="#888" stroke-width="0.5"/>
<text x="678.77" y="197.81" text-anchor="middle">-0.2</text>
<line x1="673.17" x2="674.37" y1="207.38" y2="207.38" stroke="#888" stroke-width="0.5"/>
<text x="678.77" y="209.18" text-anchor="middle">-0.4</text>
<line x1="673.17" x2="674.37" y1="218.74" y2="218.74" stroke="#888" stroke-width="0.5"/>
<text x="678.77" y="220.54" text-anchor="middle">-0.6</text>
<line x1="673.17" x2="674.37" y1="230.11" y2="230.11" stroke="#888" stroke-width="0.5"/>
<text x="678.77" y="231.91" text-anchor="middle">-0.8</text>
<line x1="673.17" x2="674.37" y1="241.47" y2="241.47" stroke="#888" stroke-width="0.5"/>
<text x="678.77" y="243.27" text-anchor="middle">-1</text>
</g>
<rect x="47.9" y="423.04" width="8" height="44.16" fill="#2c16f4"/>
<rect x="57.1" y="418.07" width="8" height="49.13" fill="#2c16f4"/>
<rect x="66.3" y="446.15" width="8" height="21.04" fill="#2c16f4"/>
<rect x="75.5" y="437.39" width="8" height="29.81" fill="#2c16f4"/>
<rect x="84.7" y="438.22" width="8" height="28.98" fill="#2c16f4"/>
<rect x="93.9" y="438.22" width="8" height="28.98" fill="#2c16f4"/>
<rect x="103.1" y="437.39" width="8" height="29.81" fill="#2c16f4"/>
<rect x="112.3" y="456.37" width="8" height="10.83" fill="#2c16f4"/>
<rect x="121.5" y="452.85" width="8" height="14.35" fill="#2c16f4"/>
<rect x="130.7" y="454.37" width="8" height="12.83" fill="#2c16f4"/>
<rect x="139.9" y="429.18" width="8" height="38.02" fill="#2c16f4"/>
<rect x="149.1" y="467.2" width="8" height="14.63" fill="#2c16f4"/>
<rect x="158.3" y="443.26" width="8" height="23.94" fill="#2c16f4"/>
<rect x="167.5" y="467.2" width="8" height="21.04" fill="#2c16f4"/>
<rect x="176.7" y="398.2" width="8" height="69" fill="#2c16f4"/>
<rect x="185.9" y="467.2" width="8" height="26.91" fill="#2c16f4"/>
<line x1="42.6" x2="198.7" y1="432.7" y2="432.7" stroke="#f7412e" stroke-width="0.8"/>
<line x1="42.6" x2="42.6" y1="398.2" y2="481" stroke="#444" stroke-width="0.6"/>
<g font-size="6.3" fill="#000" stroke="#000" stroke-width="0.08">
<line x1="38.6" x2="42.6" y1="481" y2="481" stroke="#444" stroke-width="0.6"/>
<text x="34.6" y="483.6" text-anchor="end">-0.2</text>
<line x1="38.6" x2="42.6" y1="467.2" y2="467.2" stroke="#444" stroke-width="0.6"/>
<text x="34.6" y="469.8" text-anchor="end">0.0</text>
<line x1="38.6" x2="42.6" y1="453.4" y2="453.4" stroke="#444" stroke-width="0.6"/>
<text x="34.6" y="456" text-anchor="end">0.2</text>
<line x1="38.6" x2="42.6" y1="439.6" y2="439.6" stroke="#444" stroke-width="0.6"/>
<text x="34.6" y="442.2" text-anchor="end">0.4</text>
<line x1="38.6" x2="42.6" y1="425.8" y2="425.8" stroke="#444" stroke-width="0.6"/>
<text x="34.6" y="428.4" text-anchor="end">0.6</text>
<line x1="38.6" x2="42.6" y1="412" y2="412" stroke="#444" stroke-width="0.6"/>
<text x="34.6" y="414.6" text-anchor="end">0.8</text>
<line x1="38.6" x2="42.6" y1="398.2" y2="398.2" stroke="#444" stroke-width="0.6"/>
<text x="34.6" y="400.8" text-anchor="end">1.0</text>
</g>
<text x="120.7" y="385.5" font-size="7.65" font-weight="bold" text-anchor="middle" fill="#000" stroke="#000" stroke-width="0.12">Vesicle number</text>
<text transform="translate(18.2,446.2) rotate(-90)" font-size="6.3" text-anchor="middle" fill="#000" stroke="#000" stroke-width="0.08">Correlation Coefficient</text>
<clipPath id="c1"><rect x="37.9" y="499.3" width="167.2" height="33.3"/></clipPath>
<g clip-path="url(#c1)" font-size="5" fill="#000" stroke="#000" stroke-width="0.12">
<text transform="translate(53.6,501.3) rotate(-90)" text-anchor="end">Pred_Score</text>
<text transform="translate(62.8,501.3) rotate(-90)" text-anchor="end">Pred_Adherencia</text>
<text transform="translate(72,501.3) rotate(-90)" text-anchor="end">Age</text>
<text transform="translate(81.2,501.3) rotate(-90)" text-anchor="end">body_fat_mass</text>
<text transform="translate(90.4,501.3) rotate(-90)" text-anchor="end">soft_lean_mass</text>
<text transform="translate(99.6,501.3) rotate(-90)" text-anchor="end">Fat_free_mass</text>
<text transform="translate(108.8,501.3) rotate(-90)" text-anchor="end">Visceral_fat</text>
<text transform="translate(118,501.3) rotate(-90)" text-anchor="end">waist_hip_ratio</text>
<text transform="translate(127.2,501.3) rotate(-90)" text-anchor="end">Inbody_50kHz</text>
<text transform="translate(136.4,501.3) rotate(-90)" text-anchor="end">GripStrength</text>
<text transform="translate(145.6,501.3) rotate(-90)" text-anchor="end">Chair_Test</text>
<text transform="translate(154.8,501.3) rotate(-90)" text-anchor="end">Normal_WS</text>
<text transform="translate(164,501.3) rotate(-90)" text-anchor="end">Fast_WS</text>
<text transform="translate(173.2,501.3) rotate(-90)" text-anchor="end">GDF15</text>
<text transform="translate(182.4,501.3) rotate(-90)" text-anchor="end">Ves_numb</text>
<text transform="translate(191.6,501.3) rotate(-90)" text-anchor="end">Ves_siz</text>
</g>
<rect x="292.3" y="463.5" width="8" height="32.32" fill="#2c16f4"/>
<rect x="301.49" y="463.5" width="8" height="31.36" fill="#2c16f4"/>
<rect x="310.68" y="463.5" width="8" height="15.1" fill="#2c16f4"/>
<rect x="319.87" y="463.5" width="8" height="16.64" fill="#2c16f4"/>
<rect x="329.06" y="456.14" width="8" height="7.36" fill="#2c16f4"/>
<rect x="338.25" y="456.14" width="8" height="7.36" fill="#2c16f4"/>
<rect x="347.44" y="463.5" width="8" height="12.54" fill="#2c16f4"/>
<rect x="356.63" y="463.5" width="8" height="4.16" fill="#2c16f4"/>
<rect x="365.82" y="463.24" width="8" height="0.6" fill="#2c16f4"/>
<rect x="375.01" y="439.18" width="8" height="24.32" fill="#2c16f4"/>
<rect x="384.2" y="463.5" width="8" height="4.16" fill="#2c16f4"/>
<rect x="393.39" y="463.5" width="8" height="17.28" fill="#2c16f4"/>
<rect x="402.58" y="463.5" width="8" height="21.76" fill="#2c16f4"/>
<rect x="411.77" y="436.17" width="8" height="27.33" fill="#2c16f4"/>
<rect x="420.96" y="399.5" width="8" height="64" fill="#2c16f4"/>
<rect x="430.15" y="463.5" width="8" height="20.93" fill="#2c16f4"/>
<line x1="286.8" x2="444.2" y1="431.5" y2="431.5" stroke="#f7412e" stroke-width="0.8"/>
<line x1="286.8" x2="444.2" y1="495.5" y2="495.5" stroke="#f7412e" stroke-width="0.8"/>
<line x1="286.8" x2="286.8" y1="399.5" y2="489.1" stroke="#444" stroke-width="0.6"/>
<g font-size="6.3" fill="#000" stroke="#000" stroke-width="0.08">
<line x1="282.8" x2="286.8" y1="489.1" y2="489.1" stroke="#444" stroke-width="0.6"/>
<text x="278.9" y="491.7" text-anchor="end">-0.4</text>
<line x1="282.8" x2="286.8" y1="476.3" y2="476.3" stroke="#444" stroke-width="0.6"/>
<text x="278.9" y="478.9" text-anchor="end">-0.2</text>
<line x1="282.8" x2="286.8" y1="463.5" y2="463.5" stroke="#444" stroke-width="0.6"/>
<text x="278.9" y="466.1" text-anchor="end">0.0</text>
<line x1="282.8" x2="286.8" y1="450.7" y2="450.7" stroke="#444" stroke-width="0.6"/>
<text x="278.9" y="453.3" text-anchor="end">0.2</text>
<line x1="282.8" x2="286.8" y1="437.9" y2="437.9" stroke="#444" stroke-width="0.6"/>
<text x="278.9" y="440.5" text-anchor="end">0.4</text>
<line x1="282.8" x2="286.8" y1="425.1" y2="425.1" stroke="#444" stroke-width="0.6"/>
<text x="278.9" y="427.7" text-anchor="end">0.6</text>
<line x1="282.8" x2="286.8" y1="412.3" y2="412.3" stroke="#444" stroke-width="0.6"/>
<text x="278.9" y="414.9" text-anchor="end">0.8</text>
<line x1="282.8" x2="286.8" y1="399.5" y2="399.5" stroke="#444" stroke-width="0.6"/>
<text x="278.9" y="402.1" text-anchor="end">1.0</text>
</g>
<text x="365.2" y="386.9" font-size="7.65" font-weight="bold" text-anchor="middle" fill="#000" stroke="#000" stroke-width="0.12">Vesicle number</text>
<text transform="translate(262.8,447.9) rotate(-90)" font-size="6.3" text-anchor="middle" fill="#000" stroke="#000" stroke-width="0.08">Correlation Coefficient</text>
<clipPath id="c2"><rect x="282.3" y="501.7" width="167.04" height="31.9"/></clipPath>
<g clip-path="url(#c2)" font-size="5" fill="#000" stroke="#000" stroke-width="0.12">
<text transform="translate(298,503.7) rotate(-90)" text-anchor="end">Pred_Score</text>
<text transform="translate(307.19,503.7) rotate(-90)" text-anchor="end">Pred_Adherencia</text>
<text transform="translate(316.38,503.7) rotate(-90)" text-anchor="end">Age</text>
<text transform="translate(325.57,503.7) rotate(-90)" text-anchor="end">body_fat_mass</text>
<text transform="translate(334.76,503.7) rotate(-90)" text-anchor="end">soft_lean_mass</text>
<text transform="translate(343.95,503.7) rotate(-90)" text-anchor="end">Fat_free_mass</text>
<text transform="translate(353.14,503.7) rotate(-90)" text-anchor="end">Visceral_fat</text>
<text transform="translate(362.33,503.7) rotate(-90)" text-anchor="end">waist_hip_ratio</text>
<text transform="translate(371.52,503.7) rotate(-90)" text-anchor="end">Inbody_50kHz</text>
<text transform="translate(380.71,503.7) rotate(-90)" text-anchor="end">GripStrength</text>
<text transform="translate(389.9,503.7) rotate(-90)" text-anchor="end">Chair_Test</text>
<text transform="translate(399.09,503.7) rotate(-90)" text-anchor="end">Normal_WS</text>
<text transform="translate(408.28,503.7) rotate(-90)" text-anchor="end">Fast_WS</text>
<text transform="translate(417.47,503.7) rotate(-90)" text-anchor="end">GDF15</text>
<text transform="translate(426.66,503.7) rotate(-90)" text-anchor="end">Ves_numb</text>
<text transform="translate(435.85,503.7) rotate(-90)" text-anchor="end">Ves_siz</text>
</g>
<rect x="526.4" y="446.22" width="7.9" height="18.08" fill="#2c16f4"/>
<rect x="535.57" y="447.21" width="7.9" height="17.09" fill="#2c16f4"/>
<rect x="544.74" y="437.37" width="7.9" height="26.93" fill="#2c16f4"/>
<rect x="553.91" y="457.11" width="7.9" height="7.19" fill="#2c16f4"/>
<rect x="563.08" y="463.31" width="7.9" height="0.99" fill="#2c16f4"/>
<rect x="572.25" y="463.31" width="7.9" height="0.99" fill="#2c16f4"/>
<rect x="581.42" y="454.47" width="7.9" height="9.83" fill="#2c16f4"/>
<rect x="590.59" y="438.36" width="7.9" height="25.94" fill="#2c16f4"/>
<rect x="599.76" y="464.3" width="7.9" height="29.9" fill="#2c16f4"/>
<rect x="608.93" y="464.3" width="7.9" height="4.29" fill="#2c16f4"/>
<rect x="618.1" y="422.92" width="7.9" height="41.38" fill="#2c16f4"/>
<rect x="627.27" y="434.4" width="7.9" height="29.9" fill="#2c16f4"/>
<rect x="636.44" y="439.35" width="7.9" height="24.95" fill="#2c16f4"/>
<rect x="645.61" y="464.3" width="7.9" height="18.41" fill="#2c16f4"/>
<rect x="654.78" y="398.3" width="7.9" height="66" fill="#2c16f4"/>
<rect x="663.95" y="462.32" width="7.9" height="1.98" fill="#2c16f4"/>
<line x1="520.7" x2="677.5" y1="431.3" y2="431.3" stroke="#f7412e" stroke-width="0.8"/>
<line x1="520.7" x2="520.7" y1="398.3" y2="490.7" stroke="#444" stroke-width="0.6"/>
<g font-size="6.3" fill="#000" stroke="#000" stroke-width="0.08">
<line x1="516.7" x2="520.7" y1="490.7" y2="490.7" stroke="#444" stroke-width="0.6"/>
<text x="513" y="493.3" text-anchor="end">-0.4</text>
<line x1="516.7" x2="520.7" y1="477.5" y2="477.5" stroke="#444" stroke-width="0.6"/>
<text x="513" y="480.1" text-anchor="end">-0.2</text>
<line x1="516.7" x2="520.7" y1="464.3" y2="464.3" stroke="#444" stroke-width="0.6"/>
<text x="513" y="466.9" text-anchor="end">0.0</text>
<line x1="516.7" x2="520.7" y1="451.1" y2="451.1" stroke="#444" stroke-width="0.6"/>
<text x="513" y="453.7" text-anchor="end">0.2</text>
<line x1="516.7" x2="520.7" y1="437.9" y2="437.9" stroke="#444" stroke-width="0.6"/>
<text x="513" y="440.5" text-anchor="end">0.4</text>
<line x1="516.7" x2="520.7" y1="424.7" y2="424.7" stroke="#444" stroke-width="0.6"/>
<text x="513" y="427.3" text-anchor="end">0.6</text>
<line x1="516.7" x2="520.7" y1="411.5" y2="411.5" stroke="#444" stroke-width="0.6"/>
<text x="513" y="414.1" text-anchor="end">0.8</text>
<line x1="516.7" x2="520.7" y1="398.3" y2="398.3" stroke="#444" stroke-width="0.6"/>
<text x="513" y="400.9" text-anchor="end">1.0</text>
</g>
<text x="599" y="385.5" font-size="7.65" font-weight="bold" text-anchor="middle" fill="#000" stroke="#000" stroke-width="0.12">Vesicle number</text>
<text transform="translate(496.4,445.6) rotate(-90)" font-size="6.3" text-anchor="middle" fill="#000" stroke="#000" stroke-width="0.08">Correlation Coefficient</text>
<clipPath id="c3"><rect x="516.4" y="499.3" width="166.72" height="32.7"/></clipPath>
<g clip-path="url(#c3)" font-size="5" fill="#000" stroke="#000" stroke-width="0.12">
<text transform="translate(532.05,501.3) rotate(-90)" text-anchor="end">Pred_Score</text>
<text transform="translate(541.22,501.3) rotate(-90)" text-anchor="end">Pred_Adherencia</text>
<text transform="translate(550.39,501.3) rotate(-90)" text-anchor="end">Age</text>
<text transform="translate(559.56,501.3) rotate(-90)" text-anchor="end">body_fat_mass</text>
<text transform="translate(568.73,501.3) rotate(-90)" text-anchor="end">soft_lean_mass</text>
<text transform="translate(577.9,501.3) rotate(-90)" text-anchor="end">Fat_free_mass</text>
<text transform="translate(587.07,501.3) rotate(-90)" text-anchor="end">Visceral_fat</text>
<text transform="translate(596.24,501.3) rotate(-90)" text-anchor="end">waist_hip_ratio</text>
<text transform="translate(605.41,501.3) rotate(-90)" text-anchor="end">Inbody_50kHz</text>
<text transform="translate(614.58,501.3) rotate(-90)" text-anchor="end">GripStrength</text>
<text transform="translate(623.75,501.3) rotate(-90)" text-anchor="end">Chair_Test</text>
<text transform="translate(632.92,501.3) rotate(-90)" text-anchor="end">Normal_WS</text>
<text transform="translate(642.09,501.3) rotate(-90)" text-anchor="end">Fast_WS</text>
<text transform="translate(651.26,501.3) rotate(-90)" text-anchor="end">GDF15</text>
<text transform="translate(660.43,501.3) rotate(-90)" text-anchor="end">Ves_numb</text>
<text transform="translate(669.6,501.3) rotate(-90)" text-anchor="end">Ves_siz</text>
</g>
<rect x="42.8" y="727.1" width="9" height="13.42" fill="#2c16f4"/>
<rect x="52.99" y="721.51" width="9" height="5.59" fill="#2c16f4"/>
<rect x="63.18" y="725.09" width="9" height="2.01" fill="#2c16f4"/>
<rect x="73.37" y="727.1" width="9" height="28.96" fill="#2c16f4"/>
<rect x="83.56" y="727.1" width="9" height="31.3" fill="#2c16f4"/>
<rect x="93.75" y="727.1" width="9" height="31.3" fill="#2c16f4"/>
<rect x="103.94" y="727.1" width="9" height="27.28" fill="#2c16f4"/>
<rect x="114.13" y="727.1" width="9" height="17.89" fill="#2c16f4"/>
<rect x="124.32" y="727.1" width="9" height="37.4" fill="#2c16f4"/>
<rect x="134.51" y="727.1" width="9" height="25.94" fill="#2c16f4"/>
<rect x="144.7" y="725.42" width="9" height="1.68" fill="#2c16f4"/>
<rect x="154.89" y="709.94" width="9" height="17.16" fill="#2c16f4"/>
<rect x="165.08" y="711.62" width="9" height="15.48" fill="#2c16f4"/>
<rect x="175.27" y="710.94" width="9" height="16.16" fill="#2c16f4"/>
<rect x="185.46" y="727.1" width="9" height="21.8" fill="#2c16f4"/>
<rect x="195.65" y="671.2" width="9" height="55.9" fill="#2c16f4"/>
<line x1="36.6" x2="210.4" y1="699.15" y2="699.15" stroke="#f7412e" stroke-width="0.8"/>
<line x1="36.6" x2="210.4" y1="755.05" y2="755.05" stroke="#f7412e" stroke-width="0.8"/>
<line x1="36.6" x2="36.6" y1="671.2" y2="755.05" stroke="#444" stroke-width="0.6"/>
<g font-size="6.08" fill="#000" stroke="#000" stroke-width="0.08">
<line x1="32.6" x2="36.6" y1="755.05" y2="755.05" stroke="#444" stroke-width="0.6"/>
<text x="29.3" y="757.65" text-anchor="end">-0.5</text>
<line x1="32.6" x2="36.6" y1="727.1" y2="727.1" stroke="#444" stroke-width="0.6"/>
<text x="29.3" y="729.7" text-anchor="end">0.0</text>
<line x1="32.6" x2="36.6" y1="699.15" y2="699.15" stroke="#444" stroke-width="0.6"/>
<text x="29.3" y="701.75" text-anchor="end">0.5</text>
<line x1="32.6" x2="36.6" y1="671.2" y2="671.2" stroke="#444" stroke-width="0.6"/>
<text x="29.3" y="673.8" text-anchor="end">1.0</text>
</g>
<text x="122.9" y="659" font-size="7.38" font-weight="bold" text-anchor="middle" fill="#000" stroke="#000" stroke-width="0.12">Vesicle size</text>
<text transform="translate(12.8,717.7) rotate(-90)" font-size="6.08" text-anchor="middle" fill="#000" stroke="#000" stroke-width="0.08">Correlation Coefficient</text>
<clipPath id="c4"><rect x="32.8" y="770" width="183.04" height="31.5"/></clipPath>
<g clip-path="url(#c4)" font-size="4.83" fill="#000" stroke="#000" stroke-width="0.12">
<text transform="translate(49,772) rotate(-90)" text-anchor="end">Pred_Score</text>
<text transform="translate(59.19,772) rotate(-90)" text-anchor="end">Pred_Adherencia</text>
<text transform="translate(69.38,772) rotate(-90)" text-anchor="end">Age</text>
<text transform="translate(79.57,772) rotate(-90)" text-anchor="end">body_fat_mass</text>
<text transform="translate(89.76,772) rotate(-90)" text-anchor="end">soft_lean_mass</text>
<text transform="translate(99.95,772) rotate(-90)" text-anchor="end">Fat_free_mass</text>
<text transform="translate(110.14,772) rotate(-90)" text-anchor="end">Visceral_fat</text>
<text transform="translate(120.33,772) rotate(-90)" text-anchor="end">waist_hip_ratio</text>
<text transform="translate(130.52,772) rotate(-90)" text-anchor="end">Inbody_50kHz</text>
<text transform="translate(140.71,772) rotate(-90)" text-anchor="end">GripStrength</text>
<text transform="translate(150.9,772) rotate(-90)" text-anchor="end">Chair_Test</text>
<text transform="translate(161.09,772) rotate(-90)" text-anchor="end">Normal_WS</text>
<text transform="translate(171.28,772) rotate(-90)" text-anchor="end">Fast_WS</text>
<text transform="translate(181.47,772) rotate(-90)" text-anchor="end">GDF15</text>
<text transform="translate(191.66,772) rotate(-90)" text-anchor="end">Ves_numb</text>
<text transform="translate(201.85,772) rotate(-90)" text-anchor="end">Ves_siz</text>
</g>
<rect x="288.1" y="718.86" width="8.7" height="8.74" fill="#2c16f4"/>
<rect x="298.28" y="701.31" width="8.7" height="26.29" fill="#2c16f4"/>
<rect x="308.46" y="727.6" width="8.7" height="25.61" fill="#2c16f4"/>
<rect x="318.64" y="714.77" width="8.7" height="12.83" fill="#2c16f4"/>
<rect x="328.82" y="721.21" width="8.7" height="6.39" fill="#2c16f4"/>
<rect x="339" y="721.21" width="8.7" height="6.39" fill="#2c16f4"/>
<rect x="349.18" y="719.85" width="8.7" height="7.75" fill="#2c16f4"/>
<rect x="359.36" y="727.6" width="8.7" height="6.08" fill="#2c16f4"/>
<rect x="369.54" y="712.1" width="8.7" height="15.5" fill="#2c16f4"/>
<rect x="379.72" y="727.6" width="8.7" height="8.06" fill="#2c16f4"/>
<rect x="389.9" y="711.48" width="8.7" height="16.12" fill="#2c16f4"/>
<rect x="400.08" y="719.85" width="8.7" height="7.75" fill="#2c16f4"/>
<rect x="410.26" y="681.41" width="8.7" height="46.19" fill="#2c16f4"/>
<rect x="420.44" y="727.6" width="8.7" height="31" fill="#2c16f4"/>
<rect x="430.62" y="727.6" width="8.7" height="20.46" fill="#2c16f4"/>
<rect x="440.8" y="665.6" width="8.7" height="62" fill="#2c16f4"/>
<line x1="281.6" x2="455" y1="696.6" y2="696.6" stroke="#f7412e" stroke-width="0.8"/>
<line x1="281.6" x2="455" y1="758.6" y2="758.6" stroke="#f7412e" stroke-width="0.8"/>
<line x1="281.6" x2="281.6" y1="665.6" y2="752.4" stroke="#444" stroke-width="0.6"/>
<g font-size="6.08" fill="#000" stroke="#000" stroke-width="0.08">
<line x1="277.6" x2="281.6" y1="752.4" y2="752.4" stroke="#444" stroke-width="0.6"/>
<text x="274.7" y="755" text-anchor="end">-0.4</text>
<line x1="277.6" x2="281.6" y1="740" y2="740" stroke="#444" stroke-width="0.6"/>
<text x="274.7" y="742.6" text-anchor="end">-0.2</text>
<line x1="277.6" x2="281.6" y1="727.6" y2="727.6" stroke="#444" stroke-width="0.6"/>
<text x="274.7" y="730.2" text-anchor="end">0.0</text>
<line x1="277.6" x2="281.6" y1="715.2" y2="715.2" stroke="#444" stroke-width="0.6"/>
<text x="274.7" y="717.8" text-anchor="end">0.2</text>
<line x1="277.6" x2="281.6" y1="702.8" y2="702.8" stroke="#444" stroke-width="0.6"/>
<text x="274.7" y="705.4" text-anchor="end">0.4</text>
<line x1="277.6" x2="281.6" y1="690.4" y2="690.4" stroke="#444" stroke-width="0.6"/>
<text x="274.7" y="693" text-anchor="end">0.6</text>
<line x1="277.6" x2="281.6" y1="678" y2="678" stroke="#444" stroke-width="0.6"/>
<text x="274.7" y="680.6" text-anchor="end">0.8</text>
<line x1="277.6" x2="281.6" y1="665.6" y2="665.6" stroke="#444" stroke-width="0.6"/>
<text x="274.7" y="668.2" text-anchor="end">1.0</text>
</g>
<text x="368" y="653.5" font-size="7.38" font-weight="bold" text-anchor="middle" fill="#000" stroke="#000" stroke-width="0.12">Vesicle size</text>
<text transform="translate(258,712.2) rotate(-90)" font-size="6.08" text-anchor="middle" fill="#000" stroke="#000" stroke-width="0.08">Correlation Coefficient</text>
<clipPath id="c5"><rect x="278.1" y="764.6" width="182.88" height="31.6"/></clipPath>
<g clip-path="url(#c5)" font-size="4.83" fill="#000" stroke="#000" stroke-width="0.12">
<text transform="translate(294.15,766.6) rotate(-90)" text-anchor="end">Pred_Score</text>
<text transform="translate(304.33,766.6) rotate(-90)" text-anchor="end">Pred_Adherencia</text>
<text transform="translate(314.51,766.6) rotate(-90)" text-anchor="end">Age</text>
<text transform="translate(324.69,766.6) rotate(-90)" text-anchor="end">body_fat_mass</text>
<text transform="translate(334.87,766.6) rotate(-90)" text-anchor="end">soft_lean_mass</text>
<text transform="translate(345.05,766.6) rotate(-90)" text-anchor="end">Fat_free_mass</text>
<text transform="translate(355.23,766.6) rotate(-90)" text-anchor="end">Visceral_fat</text>
<text transform="translate(365.41,766.6) rotate(-90)" text-anchor="end">waist_hip_ratio</text>
<text transform="translate(375.59,766.6) rotate(-90)" text-anchor="end">Inbody_50kHz</text>
<text transform="translate(385.77,766.6) rotate(-90)" text-anchor="end">GripStrength</text>
<text transform="translate(395.95,766.6) rotate(-90)" text-anchor="end">Chair_Test</text>
<text transform="translate(406.13,766.6) rotate(-90)" text-anchor="end">Normal_WS</text>
<text transform="translate(416.31,766.6) rotate(-90)" text-anchor="end">Fast_WS</text>
<text transform="translate(426.49,766.6) rotate(-90)" text-anchor="end">GDF15</text>
<text transform="translate(436.67,766.6) rotate(-90)" text-anchor="end">Ves_numb</text>
<text transform="translate(446.85,766.6) rotate(-90)" text-anchor="end">Ves_siz</text>
</g>
<rect x="515" y="734.7" width="8.7" height="17.44" fill="#2c16f4"/>
<rect x="525.19" y="734.7" width="8.7" height="1.9" fill="#2c16f4"/>
<rect x="535.38" y="734.7" width="8.7" height="29.54" fill="#2c16f4"/>
<rect x="545.57" y="708.2" width="8.7" height="26.5" fill="#2c16f4"/>
<rect x="555.76" y="734.7" width="8.7" height="3.04" fill="#2c16f4"/>
<rect x="565.95" y="734.7" width="8.7" height="3.04" fill="#2c16f4"/>
<rect x="576.14" y="706.55" width="8.7" height="28.15" fill="#2c16f4"/>
<rect x="586.33" y="725.95" width="8.7" height="8.75" fill="#2c16f4"/>
<rect x="596.52" y="731.02" width="8.7" height="3.68" fill="#2c16f4"/>
<rect x="606.71" y="734.7" width="8.7" height="8.37" fill="#2c16f4"/>
<rect x="616.9" y="734.7" width="8.7" height="1.9" fill="#2c16f4"/>
<rect x="627.09" y="734.7" width="8.7" height="7.61" fill="#2c16f4"/>
<rect x="637.28" y="734.7" width="8.7" height="12.05" fill="#2c16f4"/>
<rect x="647.47" y="734.7" width="8.7" height="22.44" fill="#2c16f4"/>
<rect x="657.66" y="733.05" width="8.7" height="1.65" fill="#2c16f4"/>
<rect x="667.85" y="671.3" width="8.7" height="63.4" fill="#2c16f4"/>
<line x1="509.4" x2="683.3" y1="703" y2="703" stroke="#f7412e" stroke-width="0.8"/>
<line x1="509.4" x2="509.4" y1="671.3" y2="760.06" stroke="#444" stroke-width="0.6"/>
<g font-size="6.08" fill="#000" stroke="#000" stroke-width="0.08">
<line x1="505.4" x2="509.4" y1="760.06" y2="760.06" stroke="#444" stroke-width="0.6"/>
<text x="502.1" y="762.66" text-anchor="end">-0.4</text>
<line x1="505.4" x2="509.4" y1="747.38" y2="747.38" stroke="#444" stroke-width="0.6"/>
<text x="502.1" y="749.98" text-anchor="end">-0.2</text>
<line x1="505.4" x2="509.4" y1="734.7" y2="734.7" stroke="#444" stroke-width="0.6"/>
<text x="502.1" y="737.3" text-anchor="end">0.0</text>
<line x1="505.4" x2="509.4" y1="722.02" y2="722.02" stroke="#444" stroke-width="0.6"/>
<text x="502.1" y="724.62" text-anchor="end">0.2</text>
<line x1="505.4" x2="509.4" y1="709.34" y2="709.34" stroke="#444" stroke-width="0.6"/>
<text x="502.1" y="711.94" text-anchor="end">0.4</text>
<line x1="505.4" x2="509.4" y1="696.66" y2="696.66" stroke="#444" stroke-width="0.6"/>
<text x="502.1" y="699.26" text-anchor="end">0.6</text>
<line x1="505.4" x2="509.4" y1="683.98" y2="683.98" stroke="#444" stroke-width="0.6"/>
<text x="502.1" y="686.58" text-anchor="end">0.8</text>
<line x1="505.4" x2="509.4" y1="671.3" y2="671.3" stroke="#444" stroke-width="0.6"/>
<text x="502.1" y="673.9" text-anchor="end">1.0</text>
</g>
<text x="595.4" y="658.5" font-size="7.38" font-weight="bold" text-anchor="middle" fill="#000" stroke="#000" stroke-width="0.12">Vesicle size</text>
<text transform="translate(485,717.7) rotate(-90)" font-size="6.08" text-anchor="middle" fill="#000" stroke="#000" stroke-width="0.08">Correlation Coefficient</text>
<clipPath id="c6"><rect x="505" y="770" width="183.04" height="31.4"/></clipPath>
<g clip-path="url(#c6)" font-size="4.83" fill="#000" stroke="#000" stroke-width="0.12">
<text transform="translate(521.05,772) rotate(-90)" text-anchor="end">Pred_Score</text>
<text transform="translate(531.24,772) rotate(-90)" text-anchor="end">Pred_Adherencia</text>
<text transform="translate(541.43,772) rotate(-90)" text-anchor="end">Age</text>
<text transform="translate(551.62,772) rotate(-90)" text-anchor="end">body_fat_mass</text>
<text transform="translate(561.81,772) rotate(-90)" text-anchor="end">soft_lean_mass</text>
<text transform="translate(572,772) rotate(-90)" text-anchor="end">Fat_free_mass</text>
<text transform="translate(582.19,772) rotate(-90)" text-anchor="end">Visceral_fat</text>
<text transform="translate(592.38,772) rotate(-90)" text-anchor="end">waist_hip_ratio</text>
<text transform="translate(602.57,772) rotate(-90)" text-anchor="end">Inbody_50kHz</text>
<text transform="translate(612.76,772) rotate(-90)" text-anchor="end">GripStrength</text>
<text transform="translate(622.95,772) rotate(-90)" text-anchor="end">Chair_Test</text>
<text transform="translate(633.14,772) rotate(-90)" text-anchor="end">Normal_WS</text>
<text transform="translate(643.33,772) rotate(-90)" text-anchor="end">Fast_WS</text>
<text transform="translate(653.52,772) rotate(-90)" text-anchor="end">GDF15</text>
<text transform="translate(663.71,772) rotate(-90)" text-anchor="end">Ves_numb</text>
<text transform="translate(673.9,772) rotate(-90)" text-anchor="end">Ves_siz</text>
</g>
</g>
</svg>
</body></html>
